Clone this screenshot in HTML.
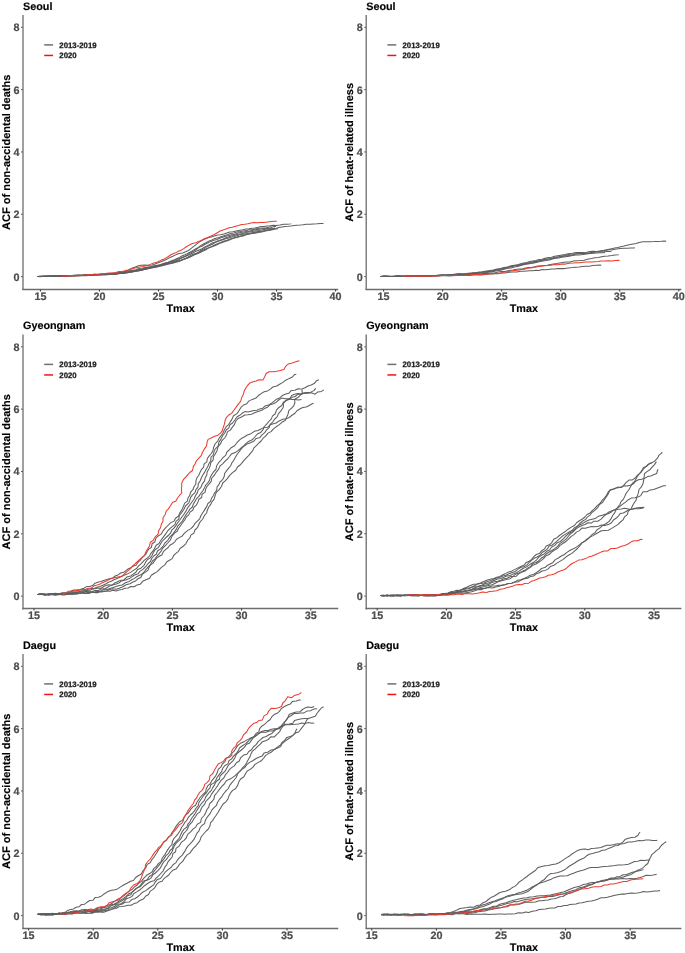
<!DOCTYPE html><html><head><meta charset="utf-8"><style>html,body{margin:0;padding:0;background:#fff;}svg{display:block;filter:blur(0.3px);}text{font-family:'Liberation Sans', sans-serif;font-weight:bold;text-rendering:geometricPrecision;}</style></head><body>
<svg width="685" height="953" viewBox="0 0 685 953">
<rect width="685" height="953" fill="#fff"/>
<line x1="23" y1="14.9" x2="23" y2="290" stroke="#6c6c6c" stroke-width="1.3"/><line x1="22.4" y1="289.5" x2="338.2" y2="289.5" stroke="#6c6c6c" stroke-width="1.3"/><line x1="21.1" y1="276.60" x2="22.6" y2="276.60" stroke="#444" stroke-width="1"/><text x="19.6" y="280.50" font-size="10.8" fill="#4d4d4d" stroke="#4d4d4d" stroke-width="0.2" text-anchor="end">0</text><line x1="21.1" y1="214.28" x2="22.6" y2="214.28" stroke="#444" stroke-width="1"/><text x="19.6" y="218.18" font-size="10.8" fill="#4d4d4d" stroke="#4d4d4d" stroke-width="0.2" text-anchor="end">2</text><line x1="21.1" y1="151.96" x2="22.6" y2="151.96" stroke="#444" stroke-width="1"/><text x="19.6" y="155.86" font-size="10.8" fill="#4d4d4d" stroke="#4d4d4d" stroke-width="0.2" text-anchor="end">4</text><line x1="21.1" y1="89.64" x2="22.6" y2="89.64" stroke="#444" stroke-width="1"/><text x="19.6" y="93.54" font-size="10.8" fill="#4d4d4d" stroke="#4d4d4d" stroke-width="0.2" text-anchor="end">6</text><line x1="21.1" y1="27.32" x2="22.6" y2="27.32" stroke="#444" stroke-width="1"/><text x="19.6" y="31.22" font-size="10.8" fill="#4d4d4d" stroke="#4d4d4d" stroke-width="0.2" text-anchor="end">8</text><line x1="40.40" y1="289.6" x2="40.40" y2="291.5" stroke="#333" stroke-width="1"/><text x="40.40" y="300.30" font-size="10.8" fill="#4d4d4d" stroke="#4d4d4d" stroke-width="0.2" text-anchor="middle">15</text><line x1="99.44" y1="289.6" x2="99.44" y2="291.5" stroke="#333" stroke-width="1"/><text x="99.44" y="300.30" font-size="10.8" fill="#4d4d4d" stroke="#4d4d4d" stroke-width="0.2" text-anchor="middle">20</text><line x1="158.48" y1="289.6" x2="158.48" y2="291.5" stroke="#333" stroke-width="1"/><text x="158.48" y="300.30" font-size="10.8" fill="#4d4d4d" stroke="#4d4d4d" stroke-width="0.2" text-anchor="middle">25</text><line x1="217.52" y1="289.6" x2="217.52" y2="291.5" stroke="#333" stroke-width="1"/><text x="217.52" y="300.30" font-size="10.8" fill="#4d4d4d" stroke="#4d4d4d" stroke-width="0.2" text-anchor="middle">30</text><line x1="276.56" y1="289.6" x2="276.56" y2="291.5" stroke="#333" stroke-width="1"/><text x="276.56" y="300.30" font-size="10.8" fill="#4d4d4d" stroke="#4d4d4d" stroke-width="0.2" text-anchor="middle">35</text><line x1="335.60" y1="289.6" x2="335.60" y2="291.5" stroke="#333" stroke-width="1"/><text x="335.60" y="300.30" font-size="10.8" fill="#4d4d4d" stroke="#4d4d4d" stroke-width="0.2" text-anchor="middle">40</text><text x="23.0" y="9.7" font-size="10.8" fill="#000" stroke="#000" stroke-width="0.15">Seoul</text><text x="180.60" y="312.20" font-size="10.8" fill="#000" stroke="#000" stroke-width="0.15" text-anchor="middle">Tmax</text><text transform="translate(10.2,152.30) rotate(-90)" font-size="11" fill="#000" stroke="#000" stroke-width="0.15" text-anchor="middle">ACF of non-accidental deaths</text><line x1="44.2" y1="44.9" x2="53.1" y2="44.9" stroke="#6f6f6f" stroke-width="1.5"/><line x1="44.2" y1="55.45" x2="53.1" y2="55.45" stroke="#f01515" stroke-width="1.5"/><text x="59.3" y="47.9" font-size="7.8" fill="#1a1a1a" stroke="#1a1a1a" stroke-width="0.25">2013-2019</text><text x="59.3" y="58.3" font-size="7.8" fill="#1a1a1a" stroke="#1a1a1a" stroke-width="0.25">2020</text><polyline points="37.3,276.5 40.4,276.7 43.7,276.3 47.5,276.5 50.6,276.6 53.9,276.3 57.3,276.4 60.8,276.4 64.4,276.4 67.9,275.8 71.4,275.9 74.8,275.9 78.0,275.7 81.0,275.7 84.2,275.6 87.4,275.6 90.6,275.4 93.8,274.9 97.0,275.0 100.2,274.6 103.3,274.6 106.4,274.3 110.3,274.2 114.1,273.9 117.6,273.7 121.4,273.4 125.0,272.9 128.3,272.4 132.1,272.0 135.7,271.3 139.2,270.7 143.0,269.7 146.1,269.3 149.2,268.2 152.4,267.7 155.6,267.0 158.6,266.1 161.6,265.6 165.2,264.6 168.5,264.1 171.5,263.4 175.0,262.5 178.9,261.5 181.7,260.2 185.4,258.7 188.3,257.5 191.4,256.3 194.3,254.8 197.3,253.8 200.1,252.5 203.0,251.0 206.0,249.7 208.6,247.9 211.4,246.7 214.1,245.3 216.8,244.0 220.4,242.5 224.0,240.9 227.0,240.3 230.0,238.9 233.8,237.9 236.9,237.1 240.1,236.2 243.2,235.2 246.3,234.5 250.1,233.7 253.3,232.5 256.4,232.2 260.1,231.2 264.1,231.0 267.0,230.0 270.0,229.4 273.0,228.7 276.0,228.2 279.0,227.6 282.0,227.0 285.0,226.5 288.0,226.3 291.0,225.9 294.0,225.4 297.0,225.2 300.1,225.1 303.1,224.8 306.1,224.2 310.0,224.2 313.5,223.9 317.1,223.8 320.4,223.5 323.5,223.6" fill="none" stroke="#5e5e5e" stroke-width="1.05" stroke-linejoin="round"/><polyline points="37.3,276.5 40.4,276.3 43.7,276.6 47.5,276.5 50.6,276.5 53.9,276.2 57.3,276.5 60.8,276.3 64.4,275.9 67.9,276.1 71.4,275.7 74.8,275.8 78.0,275.7 81.0,275.4 84.2,275.1 87.5,274.8 90.8,274.7 94.2,274.4 97.6,274.4 100.8,274.0 104.1,274.0 107.2,273.5 111.1,273.3 114.7,273.0 118.0,272.8 122.0,272.1 125.0,271.4 128.4,269.9 131.8,268.3 134.8,267.2 137.8,266.1 140.8,265.2 144.6,264.9 148.3,265.2 152.2,264.9 155.1,264.0 158.1,262.8 161.0,261.8 163.9,260.5 166.7,259.2 170.1,257.4 173.3,256.0 176.2,254.6 179.2,253.4 182.6,253.0 185.6,251.8 188.5,250.5 190.9,248.6 193.4,246.6 196.0,244.6 198.5,242.6 201.6,240.6 205.0,239.0 208.1,237.8 211.1,237.1 214.3,236.0 217.4,235.1 220.5,234.7 223.7,234.0 226.8,232.9 229.8,232.1 232.9,231.7 236.0,231.0 239.9,230.3 243.0,229.8 245.9,228.9 249.0,228.7 252.0,228.2 255.0,227.9 258.0,227.3 261.0,226.6 264.0,226.4 267.0,226.0 270.1,225.7 273.2,225.3 276.3,225.4 280.0,225.0 283.6,224.2 287.1,224.2 290.7,223.8 291.3,223.7" fill="none" stroke="#5e5e5e" stroke-width="1.05" stroke-linejoin="round"/><polyline points="37.3,276.5 40.4,276.5 43.5,276.5 47.1,276.4 50.1,276.0 53.3,276.0 56.7,276.1 60.2,275.7 63.8,275.9 67.4,275.7 71.1,275.4 74.8,275.5 78.4,275.1 81.9,275.2 85.3,274.9 88.6,274.9 91.6,274.7 95.4,274.6 98.6,274.4 102.0,274.2 105.3,274.1 109.0,273.8 112.5,273.8 115.8,273.4 119.0,272.7 122.9,272.3 126.7,271.2 129.8,270.7 132.9,270.2 135.9,269.7 138.9,268.6 142.0,268.3 145.0,267.5 148.1,266.9 151.2,266.6 154.3,265.7 157.4,265.2 160.4,264.7 164.2,263.5 167.1,262.8 170.3,261.7 173.4,260.6 176.4,259.8 179.2,258.6 182.6,257.2 186.4,255.6 189.0,253.9 192.2,252.0 195.6,250.0 198.0,248.1 200.2,245.9 203.0,244.3 205.9,242.8 209.2,240.9 212.0,239.9 214.9,238.5 218.0,237.8 221.1,236.7 224.8,235.4 227.8,234.6 230.7,233.5 233.9,233.1 236.9,232.1 240.0,231.6 243.0,230.9 246.1,230.4 249.1,229.8 252.3,229.7 255.2,229.1 259.1,228.3 262.3,228.1 265.8,227.9 269.2,227.1 272.3,227.0 275.4,226.3 276.0,226.5" fill="none" stroke="#5e5e5e" stroke-width="1.05" stroke-linejoin="round"/><polyline points="37.3,276.5 40.3,276.5 43.5,276.1 47.1,276.2 50.1,276.0 53.3,276.1 56.7,276.2 60.2,275.9 63.8,276.0 67.4,275.5 71.1,275.8 74.7,275.2 78.4,275.3 81.9,275.2 85.3,274.8 88.6,274.9 91.6,275.0 95.3,274.7 98.6,274.5 102.0,274.5 105.3,274.1 109.0,274.2 112.5,273.9 115.8,273.4 119.0,273.1 122.8,272.5 126.8,272.0 129.8,271.5 132.9,271.2 135.9,270.4 138.9,269.7 142.0,269.2 145.0,268.3 148.2,268.1 151.4,267.1 154.6,266.6 157.6,265.4 160.7,265.2 164.3,263.7 167.3,263.1 170.4,262.0 174.1,261.2 177.9,260.1 180.7,258.5 184.2,257.1 186.9,255.7 189.8,254.5 192.7,253.0 195.4,251.6 199.0,250.0 202.1,248.7 204.7,247.0 207.4,245.6 210.1,244.3 212.9,242.8 215.9,241.8 219.5,240.2 222.4,239.4 225.2,238.1 228.2,237.1 231.1,236.0 234.1,235.6 237.0,234.4 240.0,233.9 243.1,233.4 246.0,232.6 249.0,231.8 252.0,231.6 255.0,230.9 258.2,230.6 261.7,230.1 265.1,229.3 268.4,228.8 272.3,228.7 275.0,228.0" fill="none" stroke="#5e5e5e" stroke-width="1.05" stroke-linejoin="round"/><polyline points="37.3,276.5 40.4,276.6 43.5,276.2 47.1,276.1 50.1,276.2 53.3,275.9 56.7,276.1 60.2,276.2 63.7,276.0 67.4,275.7 71.1,275.7 74.7,275.8 78.4,275.2 81.9,275.4 85.3,275.0 88.6,275.1 91.6,275.2 95.4,275.0 98.6,275.1 102.0,274.7 105.3,274.4 109.0,274.2 112.5,274.6 115.8,274.3 119.0,273.4 122.9,273.3 126.8,272.7 129.7,271.8 132.9,271.6 135.9,270.8 139.0,270.3 142.0,269.7 145.0,269.0 148.1,268.2 151.3,267.4 154.5,266.8 157.7,266.2 160.6,265.1 164.4,264.6 167.3,263.7 170.5,263.1 174.1,262.2 177.8,261.1 180.9,260.3 184.6,259.0 187.4,257.5 190.3,255.8 193.3,254.3 196.3,253.2 200.1,251.8 202.8,250.2 206.4,248.7 210.0,247.2 213.0,246.5 215.9,245.3 219.4,243.6 222.2,242.4 225.2,241.4 228.3,240.6 231.1,239.2 234.0,238.1 237.1,237.6 240.0,236.4 243.1,236.0 246.0,234.8 249.0,234.1 252.0,233.5 255.1,233.3 258.3,232.6 261.8,231.9 265.2,231.0 268.5,230.6 272.1,229.7 274.0,229.5" fill="none" stroke="#5e5e5e" stroke-width="1.05" stroke-linejoin="round"/><polyline points="37.3,276.5 40.3,276.4 43.5,276.4 47.1,276.0 50.1,276.0 53.3,276.3 56.7,276.2 60.1,275.7 63.7,275.8 67.4,275.7 71.1,275.4 74.7,275.2 78.4,275.5 81.9,275.4 85.3,275.5 88.6,275.3 91.6,274.9 95.3,274.7 98.6,275.1 102.0,274.5 105.3,274.9 109.0,274.4 112.5,274.6 115.8,273.9 119.0,273.6 122.8,273.2 126.8,272.7 129.8,272.4 132.8,271.7 135.9,271.2 139.0,270.7 142.0,270.2 145.0,269.3 148.0,268.7 150.9,268.0 153.9,267.5 157.0,267.1 159.9,266.2 163.0,265.4 166.0,264.7 169.8,263.3 172.9,262.7 175.9,261.5 179.0,261.0 182.0,260.0 184.8,258.7 188.4,257.7 192.1,255.9 195.0,254.3 197.7,253.0 200.7,250.5 204.2,248.6 206.8,246.9 209.5,245.5 212.4,244.3 215.1,242.6 218.0,241.3 221.1,240.3 224.9,239.0 227.8,238.2 230.8,237.3 233.9,236.6 236.9,235.8 239.9,234.7 242.9,234.2 246.0,233.8 249.0,233.1 252.1,233.0 255.1,232.1 259.0,231.6 262.2,231.2 265.6,230.4 269.1,229.9 272.4,229.4 276.1,229.1 278.0,228.8" fill="none" stroke="#5e5e5e" stroke-width="1.05" stroke-linejoin="round"/><polyline points="37.3,276.5 40.3,276.2 43.5,276.3 47.1,276.2 50.1,276.2 53.3,276.2 56.6,275.7 60.2,275.9 63.7,275.8 67.4,275.6 71.1,275.7 74.7,275.5 78.4,275.5 81.9,275.3 85.3,275.1 88.6,275.1 91.6,274.9 95.3,274.5 98.6,274.5 102.0,274.5 105.3,274.3 109.0,274.3 112.5,274.3 115.8,273.6 119.0,273.5 122.9,272.9 126.8,272.4 129.7,271.3 132.8,270.7 135.9,270.4 139.0,269.7 142.0,269.2 145.0,268.4 148.1,267.4 151.4,267.0 154.6,266.3 157.7,265.5 160.7,264.8 164.3,263.3 168.3,262.3 171.1,261.0 174.5,259.7 178.0,258.1 180.8,256.6 184.3,255.1 187.1,253.7 189.9,252.2 192.7,250.6 195.4,249.0 198.9,247.3 202.0,246.2 204.6,244.5 208.2,242.7 210.9,241.4 213.9,240.3 216.9,239.4 219.7,238.2 222.6,237.2 225.7,236.3 228.8,235.5 232.0,234.8 235.1,234.2 238.0,233.1 241.0,232.4 244.2,232.1 247.2,231.3 250.2,230.9 254.0,229.9 257.2,229.4 260.7,229.0 264.2,228.5 267.4,228.2 270.8,227.9 272.0,227.5" fill="none" stroke="#5e5e5e" stroke-width="1.05" stroke-linejoin="round"/><polyline points="61.4,276.2 65.2,276.3 68.3,275.8 71.8,275.6 75.4,275.6 78.9,275.7 82.0,275.5 85.0,275.0 88.1,274.7 91.3,274.9 94.3,274.1 98.2,274.2 102.2,273.8 105.3,273.5 109.1,273.0 113.0,272.9 116.0,272.6 118.9,271.5 122.1,271.4 125.1,270.7 128.1,270.1 131.7,268.9 134.9,268.0 138.7,267.2 142.4,266.6 146.4,265.8 149.3,264.9 152.0,263.6 155.0,262.8 158.2,261.8 161.3,260.1 164.4,258.9 168.0,256.8 171.3,254.5 174.9,253.1 177.8,251.6 180.7,250.5 183.4,248.9 186.7,246.5 189.4,244.9 192.4,243.5 195.8,242.8 198.7,241.6 201.6,240.3 204.9,238.5 207.8,237.4 210.9,236.1 214.0,234.7 217.3,232.7 220.2,231.0 223.2,230.0 226.0,229.1 229.0,227.7 232.3,227.2 235.4,226.2 238.5,225.4 241.5,224.4 244.8,224.2 247.9,223.7 251.0,223.1 254.0,222.5 257.2,222.7 260.2,222.4 264.1,222.4 267.5,222.0 271.2,221.6 274.5,221.2 276.8,221.3" fill="none" stroke="#f03a2c" stroke-width="1.05" stroke-linejoin="round"/>
<line x1="366.2" y1="14.9" x2="366.2" y2="290" stroke="#6c6c6c" stroke-width="1.3"/><line x1="365.59999999999997" y1="289.5" x2="681.4" y2="289.5" stroke="#6c6c6c" stroke-width="1.3"/><line x1="364.3" y1="276.60" x2="365.8" y2="276.60" stroke="#444" stroke-width="1"/><text x="362.8" y="280.50" font-size="10.8" fill="#4d4d4d" stroke="#4d4d4d" stroke-width="0.2" text-anchor="end">0</text><line x1="364.3" y1="214.28" x2="365.8" y2="214.28" stroke="#444" stroke-width="1"/><text x="362.8" y="218.18" font-size="10.8" fill="#4d4d4d" stroke="#4d4d4d" stroke-width="0.2" text-anchor="end">2</text><line x1="364.3" y1="151.96" x2="365.8" y2="151.96" stroke="#444" stroke-width="1"/><text x="362.8" y="155.86" font-size="10.8" fill="#4d4d4d" stroke="#4d4d4d" stroke-width="0.2" text-anchor="end">4</text><line x1="364.3" y1="89.64" x2="365.8" y2="89.64" stroke="#444" stroke-width="1"/><text x="362.8" y="93.54" font-size="10.8" fill="#4d4d4d" stroke="#4d4d4d" stroke-width="0.2" text-anchor="end">6</text><line x1="364.3" y1="27.32" x2="365.8" y2="27.32" stroke="#444" stroke-width="1"/><text x="362.8" y="31.22" font-size="10.8" fill="#4d4d4d" stroke="#4d4d4d" stroke-width="0.2" text-anchor="end">8</text><line x1="383.60" y1="289.6" x2="383.60" y2="291.5" stroke="#333" stroke-width="1"/><text x="383.60" y="300.30" font-size="10.8" fill="#4d4d4d" stroke="#4d4d4d" stroke-width="0.2" text-anchor="middle">15</text><line x1="442.64" y1="289.6" x2="442.64" y2="291.5" stroke="#333" stroke-width="1"/><text x="442.64" y="300.30" font-size="10.8" fill="#4d4d4d" stroke="#4d4d4d" stroke-width="0.2" text-anchor="middle">20</text><line x1="501.68" y1="289.6" x2="501.68" y2="291.5" stroke="#333" stroke-width="1"/><text x="501.68" y="300.30" font-size="10.8" fill="#4d4d4d" stroke="#4d4d4d" stroke-width="0.2" text-anchor="middle">25</text><line x1="560.72" y1="289.6" x2="560.72" y2="291.5" stroke="#333" stroke-width="1"/><text x="560.72" y="300.30" font-size="10.8" fill="#4d4d4d" stroke="#4d4d4d" stroke-width="0.2" text-anchor="middle">30</text><line x1="619.76" y1="289.6" x2="619.76" y2="291.5" stroke="#333" stroke-width="1"/><text x="619.76" y="300.30" font-size="10.8" fill="#4d4d4d" stroke="#4d4d4d" stroke-width="0.2" text-anchor="middle">35</text><line x1="678.80" y1="289.6" x2="678.80" y2="291.5" stroke="#333" stroke-width="1"/><text x="678.80" y="300.30" font-size="10.8" fill="#4d4d4d" stroke="#4d4d4d" stroke-width="0.2" text-anchor="middle">40</text><text x="366.2" y="9.7" font-size="10.8" fill="#000" stroke="#000" stroke-width="0.15">Seoul</text><text x="523.80" y="312.20" font-size="10.8" fill="#000" stroke="#000" stroke-width="0.15" text-anchor="middle">Tmax</text><text transform="translate(353.4,152.30) rotate(-90)" font-size="11" fill="#000" stroke="#000" stroke-width="0.15" text-anchor="middle">ACF of heat-related illness</text><line x1="387.4" y1="44.9" x2="396.3" y2="44.9" stroke="#6f6f6f" stroke-width="1.5"/><line x1="387.4" y1="55.45" x2="396.3" y2="55.45" stroke="#f01515" stroke-width="1.5"/><text x="402.5" y="47.9" font-size="7.8" fill="#1a1a1a" stroke="#1a1a1a" stroke-width="0.25">2013-2019</text><text x="402.5" y="58.3" font-size="7.8" fill="#1a1a1a" stroke="#1a1a1a" stroke-width="0.25">2020</text><polyline points="380.6,276.4 384.3,276.3 387.4,276.5 390.9,276.4 394.8,276.3 397.9,276.1 401.2,276.4 404.6,276.1 408.1,275.8 411.6,275.8 415.1,275.8 418.7,276.0 422.2,275.6 425.6,275.7 429.0,275.5 432.2,275.5 435.3,275.4 439.1,275.1 442.3,275.1 445.8,275.2 449.1,274.8 452.4,274.5 455.7,274.1 458.9,273.8 462.1,274.0 465.2,273.8 468.2,273.6 472.0,272.9 475.7,272.8 479.2,272.1 482.6,271.7 486.3,271.1 490.0,270.6 493.3,270.1 497.0,269.1 500.6,268.4 504.0,267.5 507.9,266.9 510.9,265.8 514.7,265.2 517.7,264.8 520.6,263.8 523.6,263.1 526.8,262.6 529.8,261.6 532.9,261.0 536.0,260.5 539.0,259.6 542.1,259.3 545.1,258.3 548.2,257.6 551.5,257.2 554.6,256.3 557.7,255.8 560.8,255.3 564.7,254.6 568.3,253.8 572.5,253.3 575.8,252.5 579.0,252.6 582.9,252.4 586.6,252.2 590.0,251.5 593.4,251.3 596.4,251.4 600.1,250.9 604.0,250.3 607.8,249.5 611.7,248.7 614.7,248.1 617.7,247.6 620.7,246.8 623.9,246.1 627.1,245.3 630.2,244.5 633.2,243.9 636.2,243.4 639.1,242.4 642.9,241.8 646.5,241.7 650.5,241.7 654.0,241.6 657.7,241.4 661.2,241.3 664.9,241.1 666.2,241.3" fill="none" stroke="#5e5e5e" stroke-width="1.05" stroke-linejoin="round"/><polyline points="380.6,276.4 384.3,276.1 387.4,276.1 390.9,276.6 394.8,276.2 397.9,276.3 401.2,275.9 404.6,276.3 408.1,276.0 411.6,276.3 415.1,276.1 418.7,276.0 422.2,275.8 425.6,275.5 429.0,275.8 432.2,275.6 435.3,275.7 439.1,275.4 442.3,275.1 445.7,275.0 449.1,275.1 452.4,274.5 455.7,274.6 458.9,274.0 462.1,274.3 465.2,273.9 468.1,273.3 472.0,273.1 475.7,272.7 479.3,272.7 482.6,272.2 486.4,271.7 490.1,271.3 493.3,270.6 497.1,269.8 500.6,269.1 504.1,268.3 507.9,267.3 510.9,266.6 514.7,265.6 518.6,265.0 521.7,264.6 524.7,263.6 527.8,263.1 530.8,262.4 533.9,261.5 537.0,261.4 540.0,260.3 543.0,259.8 546.1,259.0 549.4,258.7 552.5,258.0 555.6,257.0 558.8,256.8 561.7,256.0 565.6,255.4 569.1,254.3 572.3,253.9 575.5,254.0 579.2,253.3 582.8,253.2 586.6,253.1 590.0,252.7 593.6,252.0 596.6,251.6 599.8,251.3 603.0,250.6 606.2,250.2 609.4,249.7 612.6,249.7 616.3,249.1 620.2,248.6 624.1,248.2 627.6,248.2 630.6,248.0 633.8,248.0 634.9,247.8" fill="none" stroke="#5e5e5e" stroke-width="1.05" stroke-linejoin="round"/><polyline points="380.6,276.4 384.3,276.3 387.4,276.4 390.9,276.6 394.8,276.4 397.9,276.0 401.2,276.0 404.6,276.0 408.1,276.1 411.6,276.2 415.1,276.2 418.7,276.2 422.2,275.9 425.6,275.6 429.0,275.5 432.2,275.6 435.3,275.7 439.1,275.2 442.3,275.3 445.7,275.0 449.1,274.9 452.5,274.9 455.7,274.5 458.9,274.1 462.1,274.1 465.2,274.2 468.2,273.9 472.0,273.4 475.7,272.9 479.3,272.9 482.6,272.1 486.4,271.7 490.1,271.5 493.3,270.9 497.1,269.7 500.6,269.3 504.1,268.5 507.9,267.3 510.9,266.9 514.7,265.8 518.7,265.5 521.6,264.7 524.7,264.0 527.8,263.6 530.9,263.1 534.0,262.4 537.0,261.6 540.0,261.0 543.0,260.3 546.1,259.6 549.3,259.1 552.5,258.6 555.7,257.9 558.7,256.9 561.7,256.4 565.6,256.0 569.2,255.4 572.4,254.9 575.6,253.9 578.6,253.8 582.4,253.5 586.1,253.4 590.0,252.9 593.2,252.4 596.6,251.9 600.2,252.1 603.7,251.8 606.9,251.6 610.3,251.4 611.5,251.1" fill="none" stroke="#5e5e5e" stroke-width="1.05" stroke-linejoin="round"/><polyline points="380.6,276.4 384.3,276.5 387.4,276.2 390.9,276.4 394.8,276.2 397.9,276.1 401.2,276.2 404.6,276.2 408.1,275.9 411.6,276.1 415.1,276.2 418.7,275.8 422.2,276.0 425.6,275.9 429.0,276.1 432.2,276.0 435.3,275.5 439.1,275.7 442.3,275.3 445.7,275.4 449.1,275.5 452.5,275.1 455.7,275.2 459.0,275.2 462.1,274.7 465.2,274.8 469.1,274.3 472.9,274.0 476.6,273.8 480.1,274.0 483.4,273.4 487.7,273.6 491.2,273.1 494.3,272.9 498.0,272.1 501.4,271.6 505.0,271.5 508.9,270.4 512.8,269.9 516.6,269.3 519.6,269.0 522.7,268.8 525.7,267.9 528.8,267.6 531.9,267.3 534.9,266.7 537.9,266.0 541.0,265.7 544.1,265.4 547.2,265.3 550.4,264.5 553.5,264.0 556.7,263.6 559.7,263.1 562.7,262.6 566.5,262.1 570.0,261.9 573.6,261.0 577.0,260.7 580.3,260.6 584.2,260.2 587.6,259.3 591.3,258.6 594.9,257.7 598.5,257.4 601.5,256.8 604.6,256.2 608.1,255.9 611.7,255.5 614.9,254.9 618.2,254.8 618.8,254.7" fill="none" stroke="#5e5e5e" stroke-width="1.05" stroke-linejoin="round"/><polyline points="380.6,276.4 384.3,276.1 387.4,276.6 390.9,276.5 394.8,276.4 397.9,276.1 401.2,276.5 404.6,276.5 408.1,276.1 411.6,276.4 415.1,276.1 418.7,276.1 422.2,276.2 425.6,275.9 429.0,276.2 432.2,276.0 435.3,275.6 439.1,275.6 442.3,275.7 445.7,275.7 449.1,275.9 452.5,275.7 455.7,275.4 458.9,275.6 462.1,275.3 465.2,275.3 469.1,275.4 473.0,275.1 476.6,274.6 480.1,275.0 483.4,274.6 487.6,274.1 491.2,273.9 494.3,273.8 498.0,273.7 501.5,273.1 505.0,272.9 508.9,272.2 512.8,271.9 516.7,271.9 520.6,271.2 523.7,271.3 526.7,270.9 529.8,270.7 532.9,270.8 536.0,270.2 539.0,270.4 542.0,269.6 545.1,269.8 548.3,269.4 551.4,269.1 554.6,268.9 557.7,268.6 560.7,268.6 564.7,268.6 568.3,267.9 572.4,267.6 575.9,267.2 579.1,267.1 582.1,266.6 585.8,266.2 589.2,266.2 592.7,265.5 596.3,265.3 600.0,265.1 601.3,265.2" fill="none" stroke="#5e5e5e" stroke-width="1.05" stroke-linejoin="round"/><polyline points="380.6,276.4 384.3,276.6 387.4,276.3 390.9,276.3 394.8,276.3 397.9,276.1 401.2,276.3 404.6,276.4 408.1,276.3 411.6,276.2 415.1,276.3 418.7,275.8 422.2,276.1 425.6,275.7 429.0,275.7 432.2,275.8 435.3,275.4 439.1,275.7 442.3,275.2 445.7,275.1 449.1,274.8 452.5,274.9 455.7,274.9 458.9,274.7 462.1,274.2 465.2,274.4 468.1,273.9 472.0,273.9 475.7,273.3 479.2,273.0 482.6,272.9 486.4,272.5 490.1,272.1 493.3,271.4 497.1,270.8 500.7,270.3 504.1,269.2 507.8,268.2 511.0,268.1 514.7,267.1 518.6,266.2 521.6,265.3 524.6,264.6 527.7,263.9 530.9,263.5 534.0,263.0 537.0,262.3 540.0,261.4 543.1,261.0 546.2,260.5 549.3,259.9 552.5,258.9 555.6,258.3 558.8,258.1 561.7,257.3 565.6,256.7 569.2,256.3 572.4,255.4 575.8,255.0 579.0,254.9 582.9,254.4 586.5,253.9 590.0,253.6 593.6,253.3 597.1,253.1 600.3,252.8 603.8,252.8 605.0,252.5" fill="none" stroke="#5e5e5e" stroke-width="1.05" stroke-linejoin="round"/><polyline points="404.7,276.4 407.8,276.2 411.0,276.0 414.8,276.1 417.9,276.1 421.2,276.1 424.6,276.1 428.2,275.9 431.8,275.9 435.3,276.1 438.8,275.7 442.8,275.6 446.7,275.4 449.7,275.4 452.9,275.5 456.1,275.2 459.4,275.5 462.6,275.4 465.8,275.2 469.0,274.8 472.1,274.7 475.2,274.5 479.0,274.8 482.6,274.7 486.4,274.4 490.1,273.7 493.3,273.7 497.1,273.3 500.6,273.0 504.0,271.9 507.9,271.6 510.9,271.1 514.8,270.6 517.9,270.3 521.0,269.4 524.3,269.2 527.4,268.3 530.6,268.1 533.6,267.4 537.4,266.7 541.2,266.3 544.7,265.8 547.9,265.4 551.0,265.3 554.7,264.5 558.3,264.8 562.3,264.1 565.4,264.1 569.2,263.2 573.0,263.0 577.0,262.7 580.0,262.7 583.0,262.2 586.0,262.1 589.0,262.0 592.0,262.0 595.0,261.7 598.0,261.5 601.0,261.1 605.0,260.9 608.4,260.8 612.0,260.9 615.4,260.4 618.9,260.3 619.5,260.5" fill="none" stroke="#f03a2c" stroke-width="1.05" stroke-linejoin="round"/>
<line x1="23" y1="334.4" x2="23" y2="609.5" stroke="#6c6c6c" stroke-width="1.3"/><line x1="22.4" y1="608.5" x2="338.2" y2="608.5" stroke="#6c6c6c" stroke-width="1.3"/><line x1="21.1" y1="596.10" x2="22.6" y2="596.10" stroke="#444" stroke-width="1"/><text x="19.6" y="600.00" font-size="10.8" fill="#4d4d4d" stroke="#4d4d4d" stroke-width="0.2" text-anchor="end">0</text><line x1="21.1" y1="533.78" x2="22.6" y2="533.78" stroke="#444" stroke-width="1"/><text x="19.6" y="537.68" font-size="10.8" fill="#4d4d4d" stroke="#4d4d4d" stroke-width="0.2" text-anchor="end">2</text><line x1="21.1" y1="471.46" x2="22.6" y2="471.46" stroke="#444" stroke-width="1"/><text x="19.6" y="475.36" font-size="10.8" fill="#4d4d4d" stroke="#4d4d4d" stroke-width="0.2" text-anchor="end">4</text><line x1="21.1" y1="409.14" x2="22.6" y2="409.14" stroke="#444" stroke-width="1"/><text x="19.6" y="413.04" font-size="10.8" fill="#4d4d4d" stroke="#4d4d4d" stroke-width="0.2" text-anchor="end">6</text><line x1="21.1" y1="346.82" x2="22.6" y2="346.82" stroke="#444" stroke-width="1"/><text x="19.6" y="350.72" font-size="10.8" fill="#4d4d4d" stroke="#4d4d4d" stroke-width="0.2" text-anchor="end">8</text><line x1="34.00" y1="608.6" x2="34.00" y2="610.5" stroke="#333" stroke-width="1"/><text x="34.00" y="619.30" font-size="10.8" fill="#4d4d4d" stroke="#4d4d4d" stroke-width="0.2" text-anchor="middle">15</text><line x1="103.20" y1="608.6" x2="103.20" y2="610.5" stroke="#333" stroke-width="1"/><text x="103.20" y="619.30" font-size="10.8" fill="#4d4d4d" stroke="#4d4d4d" stroke-width="0.2" text-anchor="middle">20</text><line x1="172.40" y1="608.6" x2="172.40" y2="610.5" stroke="#333" stroke-width="1"/><text x="172.40" y="619.30" font-size="10.8" fill="#4d4d4d" stroke="#4d4d4d" stroke-width="0.2" text-anchor="middle">25</text><line x1="241.60" y1="608.6" x2="241.60" y2="610.5" stroke="#333" stroke-width="1"/><text x="241.60" y="619.30" font-size="10.8" fill="#4d4d4d" stroke="#4d4d4d" stroke-width="0.2" text-anchor="middle">30</text><line x1="310.80" y1="608.6" x2="310.80" y2="610.5" stroke="#333" stroke-width="1"/><text x="310.80" y="619.30" font-size="10.8" fill="#4d4d4d" stroke="#4d4d4d" stroke-width="0.2" text-anchor="middle">35</text><text x="23.0" y="329.2" font-size="10.8" fill="#000" stroke="#000" stroke-width="0.15">Gyeongnam</text><text x="180.60" y="631.20" font-size="10.8" fill="#000" stroke="#000" stroke-width="0.15" text-anchor="middle">Tmax</text><text transform="translate(10.2,471.80) rotate(-90)" font-size="11" fill="#000" stroke="#000" stroke-width="0.15" text-anchor="middle">ACF of non-accidental deaths</text><line x1="44.2" y1="364.4" x2="53.1" y2="364.4" stroke="#6f6f6f" stroke-width="1.5"/><line x1="44.2" y1="374.95" x2="53.1" y2="374.95" stroke="#f01515" stroke-width="1.5"/><text x="59.3" y="367.4" font-size="7.8" fill="#1a1a1a" stroke="#1a1a1a" stroke-width="0.25">2013-2019</text><text x="59.3" y="377.8" font-size="7.8" fill="#1a1a1a" stroke="#1a1a1a" stroke-width="0.25">2020</text><polyline points="37.6,594.5 41.2,593.9 45.3,594.3 48.7,594.4 52.3,593.8 55.7,593.2 59.1,594.3 62.1,593.0 65.2,592.8 68.3,592.8 71.1,591.1 73.9,589.9 77.0,589.7 80.1,589.4 83.9,588.2 86.6,586.6 89.7,586.5 92.7,585.6 95.0,583.2 98.0,582.3 100.9,581.6 103.7,580.4 106.7,579.6 109.6,578.7 112.6,578.1 115.1,576.0 118.1,574.9 120.6,573.0 124.4,571.9 127.5,569.3 130.2,568.1 132.8,566.3 136.0,565.3 138.0,562.3 140.3,560.1 142.5,557.2 145.6,554.7 147.0,551.8 148.7,549.1 151.5,547.2 152.1,543.7 154.9,541.7 155.8,538.5 157.8,536.2 161.3,533.9 162.8,531.2 165.3,528.2 167.9,525.5 170.5,522.9 174.1,521.1 175.5,518.2 178.4,516.3 179.8,512.9 181.7,510.0 183.3,506.7 184.7,503.1 187.4,501.1 188.0,498.0 189.8,495.3 190.6,492.2 192.9,489.7 194.0,486.7 195.8,484.0 196.0,480.6 197.0,477.7 198.8,475.2 200.0,472.4 201.4,469.6 203.6,467.2 204.2,463.9 206.9,461.8 207.3,458.5 209.2,455.9 211.3,453.5 212.9,450.9 213.5,447.8 215.0,444.0 217.7,441.1 219.4,437.7 221.5,435.3 223.2,432.5 224.6,429.5 226.2,426.7 228.7,424.6 230.2,421.9 231.9,419.4 233.5,415.7 236.9,413.6 239.0,410.7 241.2,407.1 243.7,404.9 246.8,403.7 248.7,401.1 252.3,399.4 256.0,398.1 258.8,395.2 261.4,393.4 264.2,391.8 267.6,390.9 270.4,389.1 272.8,387.0 276.8,386.0 279.6,384.2 282.9,382.4 285.7,380.2 289.3,378.4 292.5,376.9 294.7,374.4 296.3,374.3" fill="none" stroke="#5e5e5e" stroke-width="1.05" stroke-linejoin="round"/><polyline points="37.6,594.5 41.2,594.3 45.3,594.1 48.7,595.2 52.3,594.0 55.8,594.3 59.0,593.7 62.0,593.0 65.1,592.9 68.2,593.3 72.0,591.7 76.1,592.0 79.1,591.8 82.0,590.7 85.1,590.6 88.0,589.4 90.9,588.6 94.0,588.4 97.0,587.3 100.0,586.4 102.8,585.2 105.6,584.1 108.2,582.3 111.2,581.2 114.0,579.7 117.0,578.6 119.9,577.3 123.5,575.6 127.0,574.1 130.5,572.4 133.8,570.1 136.5,568.5 138.6,565.9 141.5,563.4 143.9,560.6 147.1,558.1 149.5,556.1 151.0,553.3 153.1,550.9 154.7,548.1 156.2,545.2 159.0,543.5 160.6,540.8 162.9,537.6 165.3,534.4 167.5,531.2 170.1,528.3 172.6,526.3 175.0,524.4 176.1,521.2 178.8,519.2 179.3,515.5 181.6,512.6 183.8,509.5 185.5,506.0 188.6,503.2 189.8,500.4 190.6,497.4 192.5,494.9 195.0,492.7 195.9,489.6 198.0,487.1 198.3,483.6 200.1,481.0 201.6,477.3 203.0,474.7 204.7,472.1 206.2,469.3 207.8,466.5 209.0,463.5 210.8,460.8 210.9,457.4 213.3,455.0 214.0,451.9 215.1,449.1 218.1,446.2 218.9,442.4 221.1,438.9 222.6,435.7 224.7,433.0 226.3,430.0 228.9,427.9 229.9,424.7 232.6,423.0 234.9,420.0 236.9,417.0 239.7,415.3 242.1,413.3 244.9,411.6 248.1,411.9 251.0,411.2 254.0,410.5 257.0,410.3 259.7,408.9 262.7,408.2 265.2,405.9 268.5,404.9 271.6,403.2 274.2,401.2 276.5,399.2 279.7,397.9 282.8,395.2 285.8,394.1 288.9,393.2 291.4,390.4 294.8,390.3 298.2,388.7 300.9,388.9" fill="none" stroke="#5e5e5e" stroke-width="1.05" stroke-linejoin="round"/><polyline points="37.6,594.5 41.2,593.8 45.3,594.4 48.7,593.9 52.3,594.6 55.8,594.9 59.0,594.8 62.1,594.3 65.2,594.2 68.2,594.2 72.1,592.7 76.0,592.2 80.0,592.1 83.0,591.4 85.9,590.2 89.1,590.9 91.8,589.2 94.9,588.8 97.9,588.1 101.1,588.2 104.6,586.0 108.4,584.8 111.7,585.3 114.2,583.3 117.0,582.0 119.8,580.6 123.8,580.0 126.8,577.1 130.7,576.0 133.2,574.1 135.9,572.3 137.7,569.4 140.9,568.2 143.8,565.7 145.7,562.1 147.5,559.5 150.4,557.9 152.2,555.3 153.5,552.1 155.4,549.5 158.2,547.6 159.9,545.0 162.0,541.5 164.8,538.7 167.7,536.0 170.6,533.2 171.7,530.2 174.0,528.1 175.9,525.7 177.5,522.9 179.5,520.5 181.7,517.3 183.9,514.2 186.0,511.1 187.8,507.6 190.1,504.5 192.5,501.3 194.3,498.8 195.4,495.8 197.2,493.1 198.2,489.9 200.8,487.7 202.2,484.1 204.6,480.9 205.2,477.7 206.8,475.0 207.2,471.7 208.9,468.9 210.2,465.9 210.8,462.6 213.1,460.1 213.4,456.8 215.1,454.2 217.0,450.7 218.0,446.9 220.4,443.9 222.0,440.6 224.6,438.0 226.4,435.2 227.4,431.9 230.3,430.1 232.0,427.6 234.4,424.6 235.8,421.0 238.2,418.4 242.0,416.8 244.7,415.0 247.8,414.8 251.6,414.2 255.2,412.5 258.9,411.2 261.8,410.3 264.5,408.6 267.5,407.2 270.0,404.8 273.2,403.7 276.0,402.4 278.7,400.0 281.6,398.1 285.0,398.7 288.7,398.8 291.8,399.5 294.9,399.5 298.5,400.0 301.4,399.4" fill="none" stroke="#5e5e5e" stroke-width="1.05" stroke-linejoin="round"/><polyline points="37.6,594.5 41.2,594.2 45.3,594.7 48.7,594.3 52.3,594.2 55.8,593.7 59.0,593.7 62.1,594.0 65.2,594.4 68.2,594.3 72.1,593.1 76.0,592.8 79.9,591.8 83.0,592.4 85.9,591.2 89.1,592.0 92.1,591.6 95.0,590.4 98.1,590.6 100.9,589.0 105.0,588.8 107.6,587.2 110.3,585.6 113.3,584.8 116.3,584.0 119.2,582.7 121.7,580.9 125.6,580.0 129.3,578.6 131.9,576.9 134.4,575.0 137.7,574.1 139.9,571.4 142.9,569.4 145.7,566.7 148.1,563.6 150.4,561.5 151.7,558.5 153.7,556.0 156.3,554.1 157.5,551.0 160.2,549.1 162.9,546.4 164.9,543.0 167.8,540.3 170.0,536.9 172.8,534.1 174.6,531.6 176.4,529.1 177.7,526.2 179.8,523.9 182.4,521.0 184.3,517.5 186.5,514.1 188.3,511.7 189.9,509.1 192.4,507.0 193.4,504.0 195.0,501.4 196.6,498.6 198.9,496.4 200.5,493.8 203.0,490.6 204.4,487.9 205.7,485.0 208.0,482.7 209.6,480.0 210.4,476.9 212.0,474.2 213.7,471.6 215.9,469.5 216.8,465.5 218.9,462.3 221.1,460.0 223.2,457.4 225.7,455.3 226.8,452.1 229.1,450.0 231.2,447.7 234.6,445.7 236.9,442.7 239.4,440.2 241.8,438.2 244.7,436.7 247.3,435.0 251.0,433.7 254.3,431.3 258.1,430.4 260.9,429.1 263.8,427.4 267.5,427.3 270.2,424.8 273.3,423.8 276.2,423.0 279.1,420.9 282.8,419.3 286.1,418.8 289.2,417.5 291.6,415.5 295.0,413.3 296.9,410.8 299.7,409.0 302.8,407.6 306.2,407.0 309.2,405.5 312.2,403.8 313.6,403.2" fill="none" stroke="#5e5e5e" stroke-width="1.05" stroke-linejoin="round"/><polyline points="37.6,594.5 41.2,594.6 45.3,595.1 48.7,593.7 52.3,593.8 55.8,594.6 59.0,594.1 62.1,594.2 65.2,593.9 68.2,593.9 72.1,594.1 76.0,593.0 80.0,593.3 83.0,592.8 86.1,593.1 89.0,591.9 92.1,592.5 95.1,592.1 98.1,591.6 101.2,591.1 103.8,588.9 107.1,589.5 110.0,588.4 113.1,587.6 116.1,586.6 119.1,585.6 122.1,585.0 125.4,582.8 129.1,581.4 131.7,579.8 134.5,578.4 137.1,576.5 140.1,575.1 143.3,573.0 145.7,569.7 147.8,567.4 150.0,565.1 152.9,563.4 154.7,560.7 156.6,558.1 159.3,556.3 162.0,554.8 163.3,551.7 165.5,549.6 168.0,547.8 169.8,545.3 172.5,543.8 174.8,541.8 176.5,539.2 179.2,537.6 182.0,536.2 184.5,533.1 187.5,530.6 190.9,528.6 193.1,526.5 194.8,523.7 197.1,521.3 199.7,518.9 201.1,515.2 203.1,512.2 205.2,508.9 206.8,506.4 207.9,503.5 210.5,501.3 211.5,498.3 213.3,495.7 214.7,492.8 216.7,490.3 217.0,487.0 218.9,484.6 220.2,481.8 222.6,479.6 224.1,476.8 224.6,473.5 226.5,470.9 228.4,468.4 230.6,466.0 231.7,463.1 233.5,460.7 235.4,457.3 237.4,454.0 239.5,451.2 241.5,448.7 243.5,446.1 245.5,443.8 248.6,441.4 252.2,439.8 254.8,437.0 257.3,434.0 260.5,432.6 263.1,429.7 264.3,426.5 266.7,424.1 268.8,421.5 271.2,419.1 272.6,415.9 275.1,414.0 276.5,410.1 278.6,407.7 281.7,405.5 283.4,402.2 286.7,400.2 290.0,398.2 291.7,395.4 294.6,394.3 297.7,393.6 301.0,394.0 304.0,393.5 308.0,393.3 311.3,392.8 315.2,394.2 317.8,391.9 321.5,391.4 323.9,389.9" fill="none" stroke="#5e5e5e" stroke-width="1.05" stroke-linejoin="round"/><polyline points="37.6,594.5 41.2,593.8 45.3,594.3 48.7,594.3 52.3,594.4 55.8,595.1 59.0,594.1 62.1,594.9 65.2,594.8 68.2,593.5 72.1,593.4 76.1,594.2 80.0,593.3 83.0,592.7 86.0,593.4 89.0,593.5 92.0,592.1 95.0,592.6 98.0,592.6 100.9,591.3 103.9,591.1 106.9,590.9 110.0,591.3 112.9,590.2 116.1,591.0 119.1,590.1 122.1,589.4 124.9,588.3 128.0,588.0 130.8,586.5 134.3,586.8 137.0,584.9 140.3,584.2 143.0,581.1 146.7,579.4 149.6,578.2 151.3,575.3 154.0,573.5 156.9,571.9 159.2,569.6 161.4,567.4 164.6,565.1 166.9,561.8 169.5,560.2 172.2,558.6 173.6,555.5 175.9,553.4 178.5,551.3 180.0,548.5 183.2,546.3 185.9,543.6 187.8,540.0 189.9,537.8 191.0,534.9 193.9,533.2 194.9,530.0 197.4,527.7 198.7,524.7 200.1,521.8 202.8,519.0 204.5,515.4 206.6,513.0 207.4,509.9 208.8,507.0 210.7,504.4 212.1,501.6 214.1,499.1 215.0,496.1 216.3,492.3 219.2,489.6 221.6,486.3 222.7,483.0 225.2,480.8 227.3,478.6 229.7,475.4 232.5,472.6 235.7,470.3 237.7,466.8 240.2,465.0 242.2,462.6 244.2,460.2 246.3,457.9 248.6,455.7 250.6,453.2 252.6,450.8 253.9,447.9 256.1,445.8 258.9,443.0 261.1,441.0 263.2,438.2 265.8,435.9 268.0,433.1 271.1,431.6 273.2,429.1 276.3,426.7 279.0,424.9 281.9,422.3 285.1,420.5 286.6,417.4 288.0,414.2 288.9,410.4 291.6,408.2 293.7,405.8 294.9,402.7 294.6,399.2 297.9,397.5 300.2,395.3 302.3,392.8 301.8,388.9 305.0,387.7 308.0,386.0 311.2,385.0 314.2,383.6 316.6,380.7 318.8,379.7" fill="none" stroke="#5e5e5e" stroke-width="1.05" stroke-linejoin="round"/><polyline points="37.6,594.5 41.2,593.9 45.3,595.3 48.7,594.7 52.3,594.6 55.8,594.8 59.0,593.6 62.1,594.4 65.2,594.7 68.2,593.7 72.2,594.4 76.0,593.4 80.0,593.4 83.0,592.8 86.0,593.4 89.0,592.3 92.0,592.2 95.0,592.1 98.0,591.5 101.1,592.1 104.1,591.4 107.1,591.0 109.9,589.4 112.8,588.7 116.1,589.2 119.1,588.2 122.8,586.7 126.1,584.8 129.9,583.8 132.5,582.3 135.4,581.1 137.8,578.8 140.8,577.4 142.5,574.1 145.9,571.9 148.2,569.8 149.3,566.7 150.9,563.8 152.5,561.0 155.0,558.8 156.9,556.2 158.9,553.8 160.9,551.4 162.3,548.7 165.1,545.9 167.8,543.0 170.4,540.0 172.0,536.1 174.5,533.1 177.2,531.3 178.5,528.5 180.3,526.0 182.6,522.8 184.9,519.6 186.4,516.9 188.8,514.9 190.0,512.1 192.7,510.2 193.9,507.3 196.3,505.1 197.8,502.4 198.9,499.3 201.7,497.5 202.0,494.2 205.0,492.4 205.7,489.1 207.1,486.2 209.2,483.8 211.2,481.3 211.8,478.0 214.0,475.7 216.1,472.3 218.5,469.4 220.1,465.8 222.9,463.6 225.1,461.1 227.5,459.0 229.5,456.5 231.3,454.1 235.2,452.6 238.3,450.4 241.2,447.8 243.8,446.2 247.0,444.1 250.6,442.7 254.1,441.0 256.1,438.4 259.6,437.8 262.2,434.7 264.7,432.7 266.5,429.9 269.2,427.6 270.3,424.1 272.9,421.8 274.7,419.0 277.1,416.9 278.5,413.6 281.4,410.3 283.3,407.3 283.4,403.3 286.1,400.2 289.4,399.4 292.2,397.3 295.2,396.5 297.9,394.1 301.3,394.2 304.0,392.7 307.0,392.5 310.3,392.4 313.9,390.6 315.7,388.4" fill="none" stroke="#5e5e5e" stroke-width="1.05" stroke-linejoin="round"/><polyline points="62.3,594.5 65.4,593.4 68.3,591.2 71.7,591.2 75.6,590.6 78.8,590.6 82.0,589.5 85.1,589.4 88.1,588.3 91.4,587.9 94.2,585.8 97.3,585.0 100.2,584.0 102.9,582.4 105.8,581.2 108.6,579.8 111.4,578.5 114.6,577.7 117.8,577.0 121.7,576.3 124.7,573.6 127.5,571.1 130.6,568.7 132.4,566.2 134.7,564.1 137.0,562.0 139.8,559.4 142.2,557.5 144.5,555.4 145.9,551.7 147.6,549.0 149.4,546.3 150.4,542.2 153.1,540.4 155.2,536.9 158.1,534.2 158.8,530.4 160.5,527.7 161.3,524.3 163.0,521.3 163.0,517.8 165.1,514.7 166.2,511.1 168.4,508.9 170.5,505.8 172.6,502.3 175.8,501.2 177.4,498.2 179.7,495.2 181.8,493.0 181.4,489.7 181.7,486.4 181.7,482.9 183.5,479.4 185.8,477.1 187.8,474.7 189.8,472.5 192.5,470.5 193.4,466.4 195.1,463.8 196.4,460.8 199.1,457.8 201.4,455.4 202.5,452.3 204.4,448.9 206.6,445.9 207.0,442.4 208.1,439.4 211.7,437.7 214.4,436.3 217.4,435.6 220.5,433.1 222.5,430.4 223.3,427.1 224.4,424.2 225.0,421.0 226.4,417.4 229.1,414.8 231.8,413.1 233.8,410.3 236.0,407.4 238.3,404.1 240.8,401.2 241.7,397.5 243.2,394.7 244.1,391.3 245.6,388.3 247.4,385.7 250.0,382.9 253.0,381.7 256.1,381.0 259.0,379.7 262.9,379.9 264.6,377.0 266.2,373.5 268.9,371.7 273.2,371.8 276.7,371.3 280.1,370.6 283.8,369.5 285.6,366.4 288.4,363.9 291.4,363.2 294.9,362.1 298.1,361.0 299.6,361.0" fill="none" stroke="#f03a2c" stroke-width="1.05" stroke-linejoin="round"/>
<line x1="366.2" y1="334.4" x2="366.2" y2="609.5" stroke="#6c6c6c" stroke-width="1.3"/><line x1="365.59999999999997" y1="608.5" x2="681.4" y2="608.5" stroke="#6c6c6c" stroke-width="1.3"/><line x1="364.3" y1="596.10" x2="365.8" y2="596.10" stroke="#444" stroke-width="1"/><text x="362.8" y="600.00" font-size="10.8" fill="#4d4d4d" stroke="#4d4d4d" stroke-width="0.2" text-anchor="end">0</text><line x1="364.3" y1="533.78" x2="365.8" y2="533.78" stroke="#444" stroke-width="1"/><text x="362.8" y="537.68" font-size="10.8" fill="#4d4d4d" stroke="#4d4d4d" stroke-width="0.2" text-anchor="end">2</text><line x1="364.3" y1="471.46" x2="365.8" y2="471.46" stroke="#444" stroke-width="1"/><text x="362.8" y="475.36" font-size="10.8" fill="#4d4d4d" stroke="#4d4d4d" stroke-width="0.2" text-anchor="end">4</text><line x1="364.3" y1="409.14" x2="365.8" y2="409.14" stroke="#444" stroke-width="1"/><text x="362.8" y="413.04" font-size="10.8" fill="#4d4d4d" stroke="#4d4d4d" stroke-width="0.2" text-anchor="end">6</text><line x1="364.3" y1="346.82" x2="365.8" y2="346.82" stroke="#444" stroke-width="1"/><text x="362.8" y="350.72" font-size="10.8" fill="#4d4d4d" stroke="#4d4d4d" stroke-width="0.2" text-anchor="end">8</text><line x1="377.20" y1="608.6" x2="377.20" y2="610.5" stroke="#333" stroke-width="1"/><text x="377.20" y="619.30" font-size="10.8" fill="#4d4d4d" stroke="#4d4d4d" stroke-width="0.2" text-anchor="middle">15</text><line x1="446.40" y1="608.6" x2="446.40" y2="610.5" stroke="#333" stroke-width="1"/><text x="446.40" y="619.30" font-size="10.8" fill="#4d4d4d" stroke="#4d4d4d" stroke-width="0.2" text-anchor="middle">20</text><line x1="515.60" y1="608.6" x2="515.60" y2="610.5" stroke="#333" stroke-width="1"/><text x="515.60" y="619.30" font-size="10.8" fill="#4d4d4d" stroke="#4d4d4d" stroke-width="0.2" text-anchor="middle">25</text><line x1="584.80" y1="608.6" x2="584.80" y2="610.5" stroke="#333" stroke-width="1"/><text x="584.80" y="619.30" font-size="10.8" fill="#4d4d4d" stroke="#4d4d4d" stroke-width="0.2" text-anchor="middle">30</text><line x1="654.00" y1="608.6" x2="654.00" y2="610.5" stroke="#333" stroke-width="1"/><text x="654.00" y="619.30" font-size="10.8" fill="#4d4d4d" stroke="#4d4d4d" stroke-width="0.2" text-anchor="middle">35</text><text x="366.2" y="329.2" font-size="10.8" fill="#000" stroke="#000" stroke-width="0.15">Gyeongnam</text><text x="523.80" y="631.20" font-size="10.8" fill="#000" stroke="#000" stroke-width="0.15" text-anchor="middle">Tmax</text><text transform="translate(353.4,471.80) rotate(-90)" font-size="11" fill="#000" stroke="#000" stroke-width="0.15" text-anchor="middle">ACF of heat-related illness</text><line x1="387.4" y1="364.4" x2="396.3" y2="364.4" stroke="#6f6f6f" stroke-width="1.5"/><line x1="387.4" y1="374.95" x2="396.3" y2="374.95" stroke="#f01515" stroke-width="1.5"/><text x="402.5" y="367.4" font-size="7.8" fill="#1a1a1a" stroke="#1a1a1a" stroke-width="0.25">2013-2019</text><text x="402.5" y="377.8" font-size="7.8" fill="#1a1a1a" stroke="#1a1a1a" stroke-width="0.25">2020</text><polyline points="380.4,595.5 383.7,596.1 387.2,595.2 390.3,595.4 393.6,595.8 397.2,595.6 400.8,595.8 404.4,594.9 408.0,594.7 411.4,594.7 414.6,595.5 418.4,595.5 421.4,595.3 425.3,595.3 428.5,595.6 432.1,594.6 435.5,595.0 439.1,595.1 441.9,593.6 444.9,593.4 448.0,593.1 450.9,591.8 453.9,591.3 456.9,590.2 460.2,590.5 463.5,588.5 466.6,587.2 469.8,585.7 473.6,584.2 477.5,583.9 480.9,582.8 483.9,581.4 487.3,580.0 491.0,579.1 493.9,578.5 496.8,577.3 499.9,576.4 502.8,574.7 505.8,573.4 508.8,571.9 511.9,570.9 514.9,569.4 517.9,567.9 520.8,566.6 524.3,565.0 526.2,562.4 529.2,561.2 531.8,559.3 533.8,556.6 536.3,554.5 539.6,553.3 541.7,550.7 544.5,548.9 546.2,546.0 549.3,544.8 551.6,542.8 553.7,539.3 557.0,537.7 559.4,535.5 562.5,533.4 565.7,531.2 568.2,529.2 571.3,527.1 574.4,525.5 576.6,522.7 579.8,520.5 582.4,519.0 584.9,517.0 587.0,514.5 590.1,513.1 592.2,510.6 594.6,508.7 597.2,505.6 600.0,503.5 602.1,500.3 604.6,497.9 606.5,495.3 608.2,492.0 611.0,489.5 614.5,488.7 617.7,487.1 621.7,487.5 624.3,484.6 626.4,482.2 629.0,480.1 632.4,479.9 635.2,478.0 637.1,475.6 640.0,473.2 641.9,470.4 643.5,467.4 646.9,466.2 649.3,463.6 652.6,462.4 655.1,460.7 657.5,458.2 659.1,455.1 661.9,452.9 661.7,452.0" fill="none" stroke="#5e5e5e" stroke-width="1.05" stroke-linejoin="round"/><polyline points="380.4,595.5 383.7,595.2 387.2,596.1 390.3,595.2 393.6,595.2 397.2,595.7 400.8,595.8 404.4,595.5 408.0,595.2 411.4,595.8 414.6,595.2 418.4,595.9 421.4,594.9 425.3,594.7 428.5,595.5 432.1,594.7 435.5,595.7 439.0,594.4 442.0,594.4 445.0,593.7 448.1,593.5 450.9,592.3 454.2,592.5 457.0,591.3 460.0,590.2 463.6,589.5 466.6,588.0 470.2,587.7 474.0,586.1 477.1,584.0 480.9,583.6 484.1,582.9 487.4,581.5 491.0,580.5 493.8,579.2 496.6,577.9 499.8,577.2 502.8,575.9 506.0,575.3 509.0,573.7 512.1,572.5 515.3,571.4 517.9,569.4 520.5,567.6 524.4,566.6 527.0,564.9 529.1,562.5 531.5,560.4 534.1,558.3 537.2,557.0 540.0,555.1 542.1,552.5 544.9,550.8 547.4,548.9 549.1,546.0 552.2,545.0 555.2,542.7 557.8,540.3 560.2,538.2 563.4,535.4 566.5,533.6 569.2,532.0 572.3,530.3 574.6,527.6 577.8,526.0 579.7,523.5 582.8,521.0 585.6,519.4 587.6,516.8 590.2,514.8 592.2,512.2 594.8,510.4 597.7,507.7 599.5,504.5 602.7,502.3 604.6,499.2 606.5,496.6 608.5,493.4 609.8,490.3 613.3,489.2 616.1,487.9 620.0,487.4 623.9,485.8 627.1,486.1 630.2,485.2 633.2,483.9 635.7,481.3 638.4,479.8 641.7,479.2 644.7,478.3 647.6,476.6 650.8,475.9 653.6,474.7 656.7,473.4 657.6,470.0 658.2,469.5" fill="none" stroke="#5e5e5e" stroke-width="1.05" stroke-linejoin="round"/><polyline points="380.4,595.5 383.7,596.1 387.2,595.1 390.3,596.0 393.6,595.8 397.2,595.3 400.8,595.3 404.4,595.8 408.0,595.5 411.4,595.1 414.6,594.7 418.4,595.6 421.4,595.5 425.3,594.7 428.4,594.5 432.1,595.5 435.4,594.5 439.0,594.6 443.0,594.3 446.1,594.3 449.0,593.2 452.0,592.6 455.0,592.2 458.1,591.8 460.8,589.9 464.4,589.2 467.9,588.8 471.5,587.5 474.6,586.3 478.7,585.9 481.7,585.2 484.7,583.7 488.3,583.0 491.9,581.6 494.7,580.3 497.6,579.1 500.7,578.4 503.8,577.3 506.9,576.1 510.2,575.4 513.2,574.0 516.3,572.7 519.2,571.1 522.4,568.8 526.0,567.1 528.7,565.4 531.3,563.5 534.1,561.9 536.7,559.8 538.8,557.1 541.6,555.3 544.5,553.7 546.7,551.3 549.6,550.0 551.4,547.3 554.8,545.4 557.2,542.7 560.4,541.5 563.5,538.7 566.0,535.9 568.4,533.8 571.9,531.8 574.7,529.8 576.7,526.8 579.7,524.7 582.9,523.4 585.8,521.5 588.9,520.1 592.1,519.2 595.2,518.6 598.3,516.3 601.4,515.4 604.6,514.4 608.2,513.8 611.0,512.3 613.4,510.1 616.5,508.6 619.3,506.8 622.7,504.2 625.3,502.3 628.3,499.7 631.3,498.1 634.9,497.8 638.0,497.0 640.8,495.6 643.0,491.8 647.1,491.8 650.2,489.9 653.7,489.4 656.9,488.2 660.4,486.9 663.6,485.8 666.1,485.7" fill="none" stroke="#5e5e5e" stroke-width="1.05" stroke-linejoin="round"/><polyline points="380.4,595.5 383.7,595.3 387.2,595.8 390.3,595.3 393.6,595.7 397.2,595.8 400.8,596.0 404.4,595.3 408.0,595.2 411.4,594.7 414.6,595.0 418.4,595.0 421.4,595.2 425.3,595.4 428.4,595.4 432.1,595.7 435.5,595.4 439.0,594.4 443.0,594.1 446.1,594.7 449.1,594.1 452.1,593.5 455.1,592.9 458.0,591.5 461.1,591.7 464.6,590.7 468.0,590.4 471.7,589.5 474.6,587.8 478.4,586.6 481.4,585.9 484.7,585.2 488.3,584.5 491.7,582.6 494.6,581.8 497.8,581.3 500.8,580.3 503.7,578.7 507.0,578.2 510.0,576.7 513.4,576.2 516.0,573.9 519.1,572.9 522.7,571.1 525.4,569.9 527.9,567.9 530.7,566.4 532.8,563.6 536.1,562.5 538.9,560.7 541.2,558.3 544.0,556.5 546.1,554.0 548.7,552.2 551.4,550.7 554.8,548.7 557.6,546.3 559.8,543.7 563.1,541.3 566.1,539.1 568.2,536.5 570.2,534.2 573.1,531.8 575.6,529.3 578.4,527.2 582.0,525.5 585.1,524.5 587.9,522.7 591.3,523.1 593.9,521.2 597.8,521.2 601.1,519.1 603.5,516.6 605.8,514.5 609.0,511.9 611.9,510.8 615.1,510.0 618.3,509.2 621.4,509.0 624.4,508.3 627.5,508.7 630.6,509.6 633.9,508.5 637.3,507.7 640.8,507.4 644.2,507.2" fill="none" stroke="#5e5e5e" stroke-width="1.05" stroke-linejoin="round"/><polyline points="380.4,595.5 383.7,595.5 387.2,595.4 390.3,595.3 393.6,595.1 397.2,595.6 400.8,595.3 404.4,595.3 408.0,595.7 411.4,594.8 414.6,594.8 418.4,594.7 421.4,595.6 425.3,595.9 428.4,595.6 432.1,595.9 435.5,595.9 439.0,595.3 443.0,594.8 446.1,594.8 448.9,593.1 452.0,593.2 455.0,592.5 457.9,591.6 461.1,592.3 464.5,591.0 467.9,590.5 471.4,589.4 474.6,588.4 478.5,587.9 481.5,587.2 484.8,586.5 488.2,585.5 492.0,584.7 494.8,583.4 497.6,582.1 500.7,581.0 503.8,580.2 507.0,579.3 510.2,578.7 513.0,576.6 516.4,576.2 518.8,573.7 522.3,571.9 525.2,570.9 527.7,569.1 530.4,567.4 532.8,565.2 536.0,564.0 538.7,562.2 541.5,560.4 544.0,558.2 546.1,555.7 549.2,554.6 551.3,552.3 554.5,550.1 557.7,548.3 559.7,545.6 563.2,543.3 566.3,541.2 568.8,538.9 570.9,536.6 574.0,534.6 576.4,532.1 579.5,530.6 581.8,528.1 585.4,528.3 588.5,527.2 591.7,526.5 594.8,526.7 598.5,526.2 601.4,525.1 604.8,525.6 608.3,524.6 611.5,522.7 613.2,520.2 616.0,518.3 618.3,516.2 620.2,513.6 623.3,513.0 626.1,511.5 628.8,509.8 631.9,509.2 635.4,508.8 639.0,508.7 642.1,508.2 644.2,507.6" fill="none" stroke="#5e5e5e" stroke-width="1.05" stroke-linejoin="round"/><polyline points="380.4,595.5 383.7,596.0 387.2,595.0 390.3,596.1 393.6,595.9 397.1,594.8 400.8,595.7 404.4,595.0 408.0,595.2 411.4,595.1 414.6,594.9 418.4,595.4 421.4,595.6 425.3,595.8 428.5,595.7 432.1,595.1 435.4,594.9 439.1,595.4 443.0,595.1 445.9,593.8 449.0,594.1 452.0,593.3 455.0,592.9 457.9,592.2 460.9,591.7 464.5,591.7 467.8,590.9 471.5,590.2 474.6,589.4 478.5,588.8 481.6,588.6 485.0,588.5 488.5,586.9 492.4,586.1 495.5,585.9 498.7,585.3 502.0,585.4 505.3,584.8 508.4,583.6 511.8,583.3 514.9,582.1 517.7,580.3 520.8,579.7 524.5,578.2 527.4,576.9 530.1,575.2 533.4,574.5 536.2,572.6 539.0,570.8 541.5,568.5 544.8,567.6 547.3,565.5 550.0,564.0 552.8,562.7 555.3,559.6 558.4,558.0 560.9,556.2 564.4,554.5 566.9,552.4 570.2,550.3 573.4,548.7 576.4,547.1 579.4,545.0 581.8,542.9 584.6,541.2 587.2,539.0 590.1,537.1 593.0,535.6 595.6,534.0 598.8,532.3 601.4,530.8 604.9,530.5 608.4,530.2 611.7,528.4 614.9,526.4 617.8,524.6 620.5,522.0 623.0,519.9 624.6,516.8 627.3,514.6 628.2,511.3 630.9,509.2 632.4,506.1 633.9,503.3 636.1,500.1 636.8,496.9 638.3,493.4 639.0,489.5 641.4,486.9 643.0,483.8 643.6,480.7 644.0,477.6 644.5,473.7 646.9,471.6 650.0,469.7 652.1,467.1 654.5,464.6 656.4,461.6" fill="none" stroke="#5e5e5e" stroke-width="1.05" stroke-linejoin="round"/><polyline points="380.4,595.5 383.7,595.5 387.2,595.9 390.3,595.4 393.6,595.2 397.2,595.2 400.8,595.0 404.4,595.7 408.0,595.2 411.4,595.7 414.6,595.9 418.4,595.8 421.4,595.4 425.3,595.3 428.5,595.9 432.1,595.5 435.5,595.0 439.0,594.6 443.0,594.3 446.0,595.0 449.0,594.8 452.0,593.9 454.9,593.2 458.0,593.1 461.0,593.1 464.6,593.1 468.0,592.5 471.6,591.8 474.7,590.7 478.5,589.6 481.6,589.6 484.8,588.2 488.5,587.4 492.6,588.0 495.6,587.0 498.8,586.4 501.9,585.1 505.1,584.6 508.3,583.6 511.6,583.2 514.7,582.1 518.1,581.9 520.8,580.3 524.5,578.7 527.6,578.3 530.4,576.6 533.6,576.0 536.2,573.8 539.3,572.8 542.0,571.0 545.3,570.4 548.1,568.9 550.3,566.6 554.0,565.2 556.9,563.1 559.8,561.4 563.2,559.4 565.8,557.1 568.4,555.3 571.9,553.4 574.7,550.9 577.5,548.5 580.2,545.5 582.0,542.9 584.9,541.2 587.6,539.4 589.9,536.9 592.1,534.5 594.8,532.9 597.1,529.7 600.0,527.9 602.9,525.3 606.3,523.5 609.1,521.4 611.4,518.1 612.8,515.2 614.8,512.6 616.0,509.5 617.9,507.0 619.9,504.5 621.2,501.4 623.5,499.1 625.1,495.6 626.5,492.8 628.7,490.0 630.5,486.7 632.3,483.5 634.7,481.4 636.6,477.7 638.7,474.4 641.1,472.1 643.1,469.4 645.5,467.0 648.1,464.4 651.4,462.9 652.0,462.5" fill="none" stroke="#5e5e5e" stroke-width="1.05" stroke-linejoin="round"/><polyline points="404.5,595.4 407.8,595.5 411.3,594.6 414.4,595.3 417.7,594.7 421.2,595.3 424.7,594.8 428.3,594.5 431.8,595.3 435.1,594.8 438.1,594.4 441.2,594.9 444.6,595.0 448.0,594.9 451.2,594.7 454.2,594.8 458.2,594.1 462.0,594.4 465.7,593.6 468.9,593.8 472.4,594.1 475.6,593.6 478.7,592.9 482.5,591.9 486.3,592.5 489.5,591.6 492.8,591.2 496.6,590.8 500.3,589.2 503.5,588.7 506.5,587.8 509.6,586.9 512.6,586.3 515.5,584.9 518.6,584.5 521.8,584.8 524.6,583.6 528.7,583.2 531.2,581.3 534.1,580.4 537.0,579.3 539.7,578.0 542.8,577.6 545.7,576.8 548.3,575.2 551.6,574.7 554.9,573.7 557.7,572.0 561.7,570.6 564.7,569.5 567.1,567.6 569.5,565.3 572.6,563.3 575.4,561.9 578.6,560.1 581.8,559.7 585.5,558.6 588.4,557.1 591.5,556.3 594.5,554.9 597.4,553.8 601.0,552.1 604.3,551.0 607.6,550.9 610.9,548.5 615.0,548.4 618.3,547.8 621.3,546.2 624.8,545.4 628.0,544.0 630.9,542.1 633.8,540.8 637.7,540.7 640.9,539.2 642.5,539.4" fill="none" stroke="#f03a2c" stroke-width="1.05" stroke-linejoin="round"/>
<line x1="23" y1="653.9" x2="23" y2="929" stroke="#6c6c6c" stroke-width="1.3"/><line x1="22.4" y1="928.5" x2="338.2" y2="928.5" stroke="#6c6c6c" stroke-width="1.3"/><line x1="21.1" y1="915.60" x2="22.6" y2="915.60" stroke="#444" stroke-width="1"/><text x="19.6" y="919.50" font-size="10.8" fill="#4d4d4d" stroke="#4d4d4d" stroke-width="0.2" text-anchor="end">0</text><line x1="21.1" y1="853.28" x2="22.6" y2="853.28" stroke="#444" stroke-width="1"/><text x="19.6" y="857.18" font-size="10.8" fill="#4d4d4d" stroke="#4d4d4d" stroke-width="0.2" text-anchor="end">2</text><line x1="21.1" y1="790.96" x2="22.6" y2="790.96" stroke="#444" stroke-width="1"/><text x="19.6" y="794.86" font-size="10.8" fill="#4d4d4d" stroke="#4d4d4d" stroke-width="0.2" text-anchor="end">4</text><line x1="21.1" y1="728.64" x2="22.6" y2="728.64" stroke="#444" stroke-width="1"/><text x="19.6" y="732.54" font-size="10.8" fill="#4d4d4d" stroke="#4d4d4d" stroke-width="0.2" text-anchor="end">6</text><line x1="21.1" y1="666.32" x2="22.6" y2="666.32" stroke="#444" stroke-width="1"/><text x="19.6" y="670.22" font-size="10.8" fill="#4d4d4d" stroke="#4d4d4d" stroke-width="0.2" text-anchor="end">8</text><line x1="28.60" y1="928.6" x2="28.60" y2="930.5" stroke="#333" stroke-width="1"/><text x="28.60" y="939.30" font-size="10.8" fill="#4d4d4d" stroke="#4d4d4d" stroke-width="0.2" text-anchor="middle">15</text><line x1="93.20" y1="928.6" x2="93.20" y2="930.5" stroke="#333" stroke-width="1"/><text x="93.20" y="939.30" font-size="10.8" fill="#4d4d4d" stroke="#4d4d4d" stroke-width="0.2" text-anchor="middle">20</text><line x1="157.80" y1="928.6" x2="157.80" y2="930.5" stroke="#333" stroke-width="1"/><text x="157.80" y="939.30" font-size="10.8" fill="#4d4d4d" stroke="#4d4d4d" stroke-width="0.2" text-anchor="middle">25</text><line x1="222.40" y1="928.6" x2="222.40" y2="930.5" stroke="#333" stroke-width="1"/><text x="222.40" y="939.30" font-size="10.8" fill="#4d4d4d" stroke="#4d4d4d" stroke-width="0.2" text-anchor="middle">30</text><line x1="287.00" y1="928.6" x2="287.00" y2="930.5" stroke="#333" stroke-width="1"/><text x="287.00" y="939.30" font-size="10.8" fill="#4d4d4d" stroke="#4d4d4d" stroke-width="0.2" text-anchor="middle">35</text><text x="23.0" y="648.7" font-size="10.8" fill="#000" stroke="#000" stroke-width="0.15">Daegu</text><text x="180.60" y="951.20" font-size="10.8" fill="#000" stroke="#000" stroke-width="0.15" text-anchor="middle">Tmax</text><text transform="translate(10.2,791.30) rotate(-90)" font-size="11" fill="#000" stroke="#000" stroke-width="0.15" text-anchor="middle">ACF of non-accidental deaths</text><line x1="44.2" y1="683.9" x2="53.1" y2="683.9" stroke="#6f6f6f" stroke-width="1.5"/><line x1="44.2" y1="694.45" x2="53.1" y2="694.45" stroke="#f01515" stroke-width="1.5"/><text x="59.3" y="686.9" font-size="7.8" fill="#1a1a1a" stroke="#1a1a1a" stroke-width="0.25">2013-2019</text><text x="59.3" y="697.3" font-size="7.8" fill="#1a1a1a" stroke="#1a1a1a" stroke-width="0.25">2020</text><polyline points="37.7,914.3 41.3,914.4 45.3,913.9 48.8,914.0 52.3,913.2 55.9,914.3 59.0,912.9 62.1,912.9 65.1,912.3 67.6,910.4 70.5,909.6 73.5,908.9 76.0,907.2 79.2,906.7 81.5,904.5 84.7,904.2 87.1,902.2 89.7,900.5 93.0,900.2 95.1,897.6 98.4,897.2 101.2,896.2 103.6,894.3 107.0,892.1 110.6,890.5 114.7,889.7 117.6,888.9 120.2,887.1 123.5,885.0 127.0,883.2 130.4,881.2 133.5,880.5 135.4,877.7 138.2,875.8 141.1,874.2 142.9,870.9 145.6,868.2 147.2,864.4 150.2,862.8 151.7,859.9 153.7,857.5 155.4,854.8 157.2,852.2 158.6,849.5 160.6,847.2 162.0,844.3 164.0,842.0 166.4,840.1 168.2,837.6 170.6,835.6 171.8,832.7 173.7,830.2 175.3,827.6 176.9,825.1 179.4,822.0 182.3,820.4 183.9,817.7 185.6,815.2 188.6,812.5 190.8,809.1 192.9,806.9 195.6,805.2 196.9,802.2 198.8,799.5 200.4,797.0 203.2,794.1 205.6,792.0 206.3,788.7 207.7,785.9 210.3,783.7 211.7,780.8 213.7,778.3 215.7,775.8 217.1,773.1 218.4,769.2 220.8,767.2 222.3,764.0 224.9,761.6 226.4,758.4 229.2,756.3 231.2,753.7 233.7,751.7 235.9,748.4 237.8,745.4 241.0,742.9 244.6,741.4 247.6,739.6 250.7,737.9 253.7,736.8 256.0,733.5 258.8,731.9 259.6,728.6 261.8,726.2 265.1,723.9 267.5,721.5 270.0,719.7 271.7,716.9 274.1,714.6 277.1,713.3 279.4,711.4 281.4,708.5 284.6,706.4 287.4,705.1 290.3,704.1 292.5,701.4 296.2,701.0 299.3,700.0 300.8,699.9" fill="none" stroke="#5e5e5e" stroke-width="1.05" stroke-linejoin="round"/><polyline points="37.7,914.3 41.3,913.6 45.4,915.0 48.8,914.3 52.3,913.8 55.8,913.4 59.0,913.9 62.0,912.9 65.1,912.5 68.2,913.0 71.0,911.4 74.9,910.7 79.0,910.9 81.9,909.7 85.0,909.6 88.0,909.7 90.9,909.0 94.0,909.8 96.9,908.6 99.8,907.7 103.7,907.3 107.3,905.5 110.2,904.5 112.8,902.7 115.3,900.8 118.6,900.0 120.9,897.9 124.0,895.5 127.0,892.9 129.3,890.9 132.1,889.5 134.2,887.1 136.8,885.3 139.1,883.0 141.4,881.1 143.9,878.1 146.6,875.3 150.1,873.3 152.4,871.3 153.8,868.4 156.5,866.5 158.3,863.6 161.0,861.6 162.3,858.0 164.7,854.9 166.2,852.2 167.8,849.6 169.6,847.0 171.9,844.7 172.4,841.3 173.9,838.5 176.1,836.2 178.0,833.8 180.3,830.5 181.5,827.5 183.4,825.0 184.9,822.3 187.0,820.0 188.4,817.3 190.4,815.0 192.7,813.0 194.6,810.6 196.2,808.0 198.2,805.7 198.9,802.5 200.6,800.0 202.3,797.5 204.0,795.0 206.4,792.8 207.9,790.2 210.0,787.9 210.7,784.7 213.8,783.1 215.5,780.7 217.4,777.1 219.7,773.9 221.6,771.6 222.7,768.3 224.7,765.7 227.9,763.9 229.0,760.6 231.8,758.8 233.5,756.1 236.3,753.5 238.3,750.6 239.7,747.7 242.4,745.8 245.5,743.9 248.0,741.5 250.6,738.6 253.9,737.2 256.3,735.1 258.9,733.2 261.7,731.5 264.9,730.4 268.2,730.6 271.4,729.2 274.4,728.7 277.6,728.7 280.0,726.7 283.1,725.9 285.9,724.2 289.1,723.9 292.8,723.3 294.5,720.6 298.2,719.4 301.7,718.7 305.0,718.6 308.4,718.5 311.4,717.5 315.3,716.2 317.1,713.2 319.3,710.4 321.8,707.5 323.6,706.9" fill="none" stroke="#5e5e5e" stroke-width="1.05" stroke-linejoin="round"/><polyline points="37.7,914.3 41.3,914.3 45.3,914.9 48.8,914.9 52.3,914.2 55.8,914.6 59.0,913.1 62.1,913.9 65.2,913.5 68.1,912.1 71.2,912.7 75.1,911.9 79.1,911.6 82.0,911.0 85.0,910.5 88.0,911.0 91.0,910.7 94.1,910.9 96.9,909.4 100.0,909.1 103.5,907.6 107.4,906.9 110.8,904.9 113.9,904.2 116.7,902.7 119.4,901.0 122.6,898.9 125.8,896.6 128.6,893.8 131.5,892.7 133.8,890.6 136.0,888.4 138.9,887.0 141.0,884.7 143.1,881.3 147.0,879.9 149.2,876.5 151.9,874.9 153.4,872.1 155.3,869.6 157.5,867.2 159.5,864.6 161.7,861.7 164.1,858.6 166.2,855.3 168.7,853.3 170.0,850.5 172.6,848.5 173.2,845.1 175.2,842.7 177.3,840.4 179.4,838.0 180.5,835.1 182.3,831.5 184.0,829.1 186.8,827.3 187.7,824.3 189.8,822.1 191.1,819.3 192.8,816.8 194.6,814.4 196.1,811.8 198.2,808.4 200.4,805.0 202.2,802.6 204.4,800.4 205.5,797.4 207.3,794.9 209.1,792.5 211.4,790.4 212.7,787.6 214.4,785.1 216.2,781.5 219.5,779.0 220.1,775.8 222.6,773.5 225.1,771.2 226.7,768.2 228.4,765.2 230.8,762.9 233.1,760.6 234.8,758.0 236.3,754.3 238.8,752.0 241.4,750.0 244.3,747.4 246.6,744.2 249.6,742.9 251.5,740.1 253.5,737.5 256.8,735.3 259.5,733.0 262.8,732.1 266.1,732.2 269.3,730.9 272.6,731.0 275.5,729.3 279.5,728.7 281.7,726.1 284.8,724.7 288.7,724.7 292.0,724.4 295.2,724.3 298.5,723.9 301.8,723.1 304.9,723.4 308.5,722.6 311.9,723.3 314.2,723.0" fill="none" stroke="#5e5e5e" stroke-width="1.05" stroke-linejoin="round"/><polyline points="37.7,914.3 41.3,913.8 45.3,913.5 48.8,913.7 52.3,914.9 55.8,913.9 59.0,914.0 62.0,913.4 65.2,913.5 68.2,913.2 72.0,911.8 76.0,911.4 80.0,911.2 83.0,911.5 86.0,910.9 89.0,911.0 92.0,911.0 94.9,910.3 98.0,910.4 100.9,909.7 104.8,909.0 107.9,908.5 110.3,906.3 113.1,905.0 116.1,903.9 119.0,902.4 122.4,900.5 125.6,898.2 127.5,895.7 130.8,894.7 132.4,891.7 134.9,889.9 137.4,887.8 140.4,886.4 142.4,884.2 144.9,881.1 148.8,879.6 151.3,877.7 152.8,874.8 155.4,873.0 157.8,870.7 160.2,868.2 161.9,864.9 163.9,861.6 166.3,859.6 168.0,857.0 170.0,854.6 171.9,852.0 173.0,849.0 174.3,846.0 176.0,843.4 178.4,841.2 180.6,839.2 182.1,836.4 183.5,833.7 185.6,831.5 187.5,829.2 188.9,825.3 191.8,822.4 193.8,818.9 195.6,816.5 197.1,813.9 199.8,812.1 201.0,809.3 202.4,806.6 204.6,804.3 205.8,801.5 208.0,799.2 210.2,796.9 211.5,794.1 213.3,791.6 215.1,789.2 217.4,786.0 219.4,782.7 221.2,780.1 223.8,778.0 225.3,774.9 227.5,772.5 229.3,769.7 231.6,767.6 234.3,765.9 236.4,762.8 239.3,761.0 240.6,757.8 243.6,755.1 246.9,754.2 248.8,751.5 251.5,749.7 253.3,747.0 256.3,744.4 258.1,741.6 260.6,739.6 263.0,737.5 266.2,736.5 268.9,734.8 271.9,733.4 274.2,731.1 276.6,729.1 279.7,727.9 281.6,725.3 283.7,722.9 285.9,720.6 288.0,717.3 289.3,714.2 292.9,713.0 296.2,712.1 299.9,711.8 302.5,709.5 305.1,707.9 307.9,707.0 311.6,707.4 314.2,706.4" fill="none" stroke="#5e5e5e" stroke-width="1.05" stroke-linejoin="round"/><polyline points="37.7,914.3 41.3,914.7 45.3,914.7 48.8,915.0 52.3,915.0 55.8,914.2 59.0,913.5 62.1,913.4 65.1,912.8 68.2,913.5 72.1,912.9 76.0,912.3 80.0,911.6 83.0,911.7 86.0,911.2 89.0,911.0 92.0,911.8 95.0,910.9 98.1,911.6 100.9,910.6 104.8,909.7 108.5,908.1 111.5,907.7 114.4,906.6 116.8,904.3 120.3,904.1 123.6,902.0 126.3,898.8 129.3,897.8 132.1,896.4 133.9,893.5 136.6,891.9 139.2,890.2 141.7,888.4 144.5,885.7 147.6,883.5 150.9,881.5 154.1,880.7 156.1,878.1 158.6,875.9 160.8,873.5 163.2,870.8 164.8,867.2 166.7,864.8 168.0,861.9 170.1,859.4 172.2,857.0 172.8,853.6 175.6,851.7 176.0,848.3 179.4,845.8 181.3,842.2 184.1,840.4 186.1,838.2 187.7,834.4 190.6,831.8 193.2,828.9 195.7,827.1 197.3,824.2 200.6,822.4 201.4,818.5 204.1,815.5 205.7,812.8 206.8,809.7 208.8,807.1 209.5,803.8 212.0,801.5 214.0,798.9 214.5,795.6 217.1,792.5 219.3,789.6 221.8,786.4 224.3,784.0 226.1,781.0 228.9,779.4 231.7,778.2 234.8,775.8 237.5,773.3 240.2,771.2 242.2,768.2 244.8,765.7 246.5,762.9 247.9,760.2 249.8,757.1 250.9,754.1 252.4,751.2 255.3,748.9 257.9,746.1 260.3,744.2 262.4,741.7 265.5,740.7 268.4,739.4 270.7,736.8 274.4,736.9 276.8,734.3 279.7,731.6 281.1,728.7 283.6,725.4 284.6,722.3 286.4,719.8 288.3,717.4 290.9,715.8 294.1,713.5 297.3,713.5 300.4,712.9 303.6,713.1 307.2,710.9 310.5,710.7 313.7,709.1 317.2,708.7" fill="none" stroke="#5e5e5e" stroke-width="1.05" stroke-linejoin="round"/><polyline points="37.7,914.3 41.3,914.0 45.3,913.5 48.8,914.2 52.3,914.6 55.8,914.0 59.0,914.0 62.1,914.1 65.2,914.3 68.2,914.0 72.2,914.0 76.0,912.0 80.0,913.0 83.0,912.5 86.0,912.4 89.0,911.5 92.0,912.8 95.0,911.5 98.0,912.1 101.0,911.5 104.0,910.8 107.1,910.3 110.0,908.9 113.3,908.7 116.0,906.8 118.8,905.0 121.7,904.2 125.2,902.2 129.4,901.9 131.7,899.6 134.7,898.7 137.4,897.0 139.9,894.9 142.6,892.2 146.2,890.4 148.5,888.5 151.0,886.7 153.6,884.9 155.2,882.1 157.2,879.6 160.5,878.5 162.8,875.3 165.2,872.2 168.1,869.6 171.3,867.3 173.0,864.7 175.7,862.9 177.4,860.1 179.5,857.6 182.3,855.1 184.4,851.9 186.3,848.4 188.1,845.9 190.3,843.7 192.4,841.4 194.3,838.9 195.6,836.0 197.0,833.2 199.0,830.8 200.1,827.8 201.9,825.5 204.6,823.6 205.3,820.4 206.8,817.7 208.7,815.4 210.5,812.9 211.8,810.1 213.8,807.8 216.2,805.7 217.7,802.0 219.9,798.8 222.0,796.3 223.8,793.5 226.0,790.9 228.3,788.5 229.7,785.4 231.7,782.9 233.7,780.5 236.2,777.5 237.5,774.0 239.4,771.5 242.0,769.4 245.0,767.3 247.2,764.3 249.5,762.4 252.7,760.8 255.7,758.7 258.8,757.2 262.1,756.1 264.0,753.1 267.7,752.3 271.1,749.9 274.4,749.5 277.7,747.0 280.5,745.0 282.1,742.3 284.8,740.2 286.7,737.4 290.2,736.6 293.0,735.1 295.5,733.0 298.7,732.0 300.8,729.2 302.8,726.7 304.9,723.9 306.5,720.4 308.4,718.0" fill="none" stroke="#5e5e5e" stroke-width="1.05" stroke-linejoin="round"/><polyline points="37.7,914.3 41.3,915.0 45.3,914.2 48.8,913.8 52.3,914.0 55.8,913.8 59.0,914.0 62.1,914.6 65.2,914.5 68.1,913.0 72.1,913.8 76.0,913.3 80.0,913.2 83.0,913.1 86.0,913.4 89.0,913.2 92.0,913.3 95.0,912.2 98.0,911.9 101.0,912.1 104.2,912.1 107.1,910.9 110.1,910.1 112.9,908.7 116.1,908.5 118.9,906.8 122.0,906.6 125.0,906.0 128.0,905.3 131.2,905.3 134.0,903.6 137.1,902.7 139.8,900.5 143.3,899.1 145.8,896.0 148.6,894.5 150.0,891.4 152.7,889.6 155.0,887.3 156.6,884.4 158.9,882.3 162.1,881.2 163.9,878.7 166.3,876.8 168.8,875.0 170.6,872.5 172.7,870.3 175.9,869.1 177.9,866.6 179.8,863.8 182.7,861.4 184.7,857.9 187.2,854.9 189.8,853.1 191.6,850.6 193.5,848.2 195.8,846.0 197.8,843.4 199.8,840.9 201.1,837.0 203.5,834.0 206.2,831.0 208.5,828.8 209.9,826.1 210.5,822.9 212.6,820.6 214.2,818.0 216.0,815.5 217.7,813.0 219.7,809.5 221.4,806.8 223.1,804.0 225.9,801.8 227.9,799.1 229.0,795.8 230.6,792.9 232.6,790.4 235.5,788.7 237.6,785.4 238.8,782.1 240.4,779.3 243.9,776.8 245.4,774.1 247.2,771.0 250.3,769.4 253.0,767.1 255.0,764.4 258.3,762.4 261.2,760.8 263.8,758.0 265.7,755.4 268.5,753.6 271.4,752.0 274.7,749.2 277.6,748.1 280.6,746.6 282.2,743.5 284.8,741.4 287.3,739.5 290.1,737.7 292.8,735.5 295.2,732.5 296.5,729.3 297.3,729.1" fill="none" stroke="#5e5e5e" stroke-width="1.05" stroke-linejoin="round"/><polyline points="60.7,913.9 64.4,914.3 68.4,913.6 71.7,912.9 75.2,912.9 78.6,911.9 81.6,911.2 84.9,911.4 88.2,910.7 91.5,910.7 94.5,909.5 97.1,907.7 101.0,906.8 104.4,906.7 107.2,905.3 109.3,902.7 112.3,901.7 115.3,900.9 118.0,899.0 120.9,897.7 123.1,895.3 126.0,893.1 129.2,891.5 130.9,887.8 133.6,885.0 137.3,883.4 139.7,881.1 141.4,877.7 142.7,873.9 144.0,870.9 145.1,867.8 145.6,864.5 147.4,862.0 149.7,859.7 151.5,857.2 153.1,854.6 154.8,852.1 157.0,850.0 158.7,847.4 162.0,845.1 163.2,842.1 166.1,840.2 168.4,837.0 171.8,834.8 173.3,832.1 175.4,829.8 177.4,827.4 179.1,824.8 181.9,823.1 183.5,820.4 184.0,817.1 185.9,814.6 187.3,811.9 188.9,809.3 191.2,806.0 193.4,803.5 194.5,800.4 196.5,797.9 198.0,795.1 199.6,792.4 202.0,790.4 203.8,787.6 204.7,784.4 207.4,782.4 209.3,780.0 210.0,775.9 212.9,773.5 214.4,770.3 216.0,767.6 218.1,764.0 221.0,762.6 223.5,761.1 225.8,758.2 229.5,757.3 231.9,755.2 231.6,751.2 233.3,748.4 235.9,746.2 237.2,742.8 239.6,740.8 241.8,738.6 243.7,734.6 246.6,732.0 248.2,729.0 250.3,726.4 253.4,723.6 256.5,722.6 258.9,720.6 262.4,719.9 264.0,715.9 267.2,714.1 268.6,711.2 271.5,708.2 275.2,708.6 278.4,707.8 281.5,706.5 282.8,703.0 285.4,700.6 287.7,696.8 291.3,697.7 294.2,695.6 297.8,694.6 300.8,693.1 301.1,692.3" fill="none" stroke="#f03a2c" stroke-width="1.05" stroke-linejoin="round"/>
<line x1="366.2" y1="653.9" x2="366.2" y2="929" stroke="#6c6c6c" stroke-width="1.3"/><line x1="365.59999999999997" y1="928.5" x2="681.4" y2="928.5" stroke="#6c6c6c" stroke-width="1.3"/><line x1="364.3" y1="915.60" x2="365.8" y2="915.60" stroke="#444" stroke-width="1"/><text x="362.8" y="919.50" font-size="10.8" fill="#4d4d4d" stroke="#4d4d4d" stroke-width="0.2" text-anchor="end">0</text><line x1="364.3" y1="853.28" x2="365.8" y2="853.28" stroke="#444" stroke-width="1"/><text x="362.8" y="857.18" font-size="10.8" fill="#4d4d4d" stroke="#4d4d4d" stroke-width="0.2" text-anchor="end">2</text><line x1="364.3" y1="790.96" x2="365.8" y2="790.96" stroke="#444" stroke-width="1"/><text x="362.8" y="794.86" font-size="10.8" fill="#4d4d4d" stroke="#4d4d4d" stroke-width="0.2" text-anchor="end">4</text><line x1="364.3" y1="728.64" x2="365.8" y2="728.64" stroke="#444" stroke-width="1"/><text x="362.8" y="732.54" font-size="10.8" fill="#4d4d4d" stroke="#4d4d4d" stroke-width="0.2" text-anchor="end">6</text><line x1="364.3" y1="666.32" x2="365.8" y2="666.32" stroke="#444" stroke-width="1"/><text x="362.8" y="670.22" font-size="10.8" fill="#4d4d4d" stroke="#4d4d4d" stroke-width="0.2" text-anchor="end">8</text><line x1="371.80" y1="928.6" x2="371.80" y2="930.5" stroke="#333" stroke-width="1"/><text x="371.80" y="939.30" font-size="10.8" fill="#4d4d4d" stroke="#4d4d4d" stroke-width="0.2" text-anchor="middle">15</text><line x1="436.40" y1="928.6" x2="436.40" y2="930.5" stroke="#333" stroke-width="1"/><text x="436.40" y="939.30" font-size="10.8" fill="#4d4d4d" stroke="#4d4d4d" stroke-width="0.2" text-anchor="middle">20</text><line x1="501.00" y1="928.6" x2="501.00" y2="930.5" stroke="#333" stroke-width="1"/><text x="501.00" y="939.30" font-size="10.8" fill="#4d4d4d" stroke="#4d4d4d" stroke-width="0.2" text-anchor="middle">25</text><line x1="565.60" y1="928.6" x2="565.60" y2="930.5" stroke="#333" stroke-width="1"/><text x="565.60" y="939.30" font-size="10.8" fill="#4d4d4d" stroke="#4d4d4d" stroke-width="0.2" text-anchor="middle">30</text><line x1="630.20" y1="928.6" x2="630.20" y2="930.5" stroke="#333" stroke-width="1"/><text x="630.20" y="939.30" font-size="10.8" fill="#4d4d4d" stroke="#4d4d4d" stroke-width="0.2" text-anchor="middle">35</text><text x="366.2" y="648.7" font-size="10.8" fill="#000" stroke="#000" stroke-width="0.15">Daegu</text><text x="523.80" y="951.20" font-size="10.8" fill="#000" stroke="#000" stroke-width="0.15" text-anchor="middle">Tmax</text><text transform="translate(353.4,791.30) rotate(-90)" font-size="11" fill="#000" stroke="#000" stroke-width="0.15" text-anchor="middle">ACF of heat-related illness</text><line x1="387.4" y1="683.9" x2="396.3" y2="683.9" stroke="#6f6f6f" stroke-width="1.5"/><line x1="387.4" y1="694.45" x2="396.3" y2="694.45" stroke="#f01515" stroke-width="1.5"/><text x="402.5" y="686.9" font-size="7.8" fill="#1a1a1a" stroke="#1a1a1a" stroke-width="0.25">2013-2019</text><text x="402.5" y="697.3" font-size="7.8" fill="#1a1a1a" stroke="#1a1a1a" stroke-width="0.25">2020</text><polyline points="381.1,914.6 384.2,914.6 387.4,914.9 391.1,914.9 394.2,914.2 397.4,914.3 400.9,914.9 404.4,914.5 408.1,914.6 411.8,914.7 415.4,914.1 419.1,914.0 422.6,914.4 426.1,914.7 429.4,914.6 432.4,914.0 436.1,913.9 439.3,913.9 443.6,914.1 447.7,913.3 450.9,913.6 453.8,912.3 457.4,912.2 461.0,911.4 464.1,910.9 467.1,909.9 470.1,909.4 473.3,909.1 476.3,908.8 480.0,907.3 483.2,906.4 486.5,905.3 489.6,904.1 492.3,902.3 495.9,901.5 499.3,900.0 502.9,898.7 505.6,897.1 508.9,896.6 511.8,895.6 515.0,894.7 518.4,894.2 522.2,893.7 525.3,892.6 528.3,891.3 530.8,889.0 533.6,887.0 535.9,884.9 539.0,883.4 541.4,881.3 544.1,879.8 546.1,877.3 548.3,875.1 550.9,873.5 554.1,873.2 557.2,872.8 560.9,871.6 563.7,870.3 566.3,868.6 568.8,866.5 571.7,864.7 574.3,863.2 577.2,861.3 579.9,859.8 583.6,858.3 586.6,855.8 589.2,854.2 592.5,853.4 595.8,852.4 599.2,851.8 602.2,850.2 605.5,850.1 608.3,848.4 611.2,847.6 614.8,845.7 618.0,845.5 620.6,843.7 623.1,841.8 625.3,839.2 628.4,838.2 631.7,837.4 634.9,837.3 637.8,835.5 639.4,832.8 640.2,832.6" fill="none" stroke="#5e5e5e" stroke-width="1.05" stroke-linejoin="round"/><polyline points="381.1,914.6 384.2,914.6 387.4,914.4 391.1,914.7 394.2,914.4 397.4,915.0 400.9,914.7 404.4,914.3 408.1,914.9 411.8,914.7 415.4,914.8 419.1,914.5 422.6,914.6 426.1,914.8 429.3,914.0 432.4,914.0 436.1,913.9 439.3,914.1 443.6,913.7 446.6,913.1 450.2,912.5 453.7,911.5 457.0,909.9 459.9,908.6 463.6,908.0 467.0,907.6 470.1,907.0 473.9,907.3 477.1,905.5 480.2,905.1 482.6,902.9 485.7,901.8 488.3,899.5 490.9,897.6 493.9,896.3 496.8,894.5 499.4,892.7 502.5,891.7 505.5,891.2 509.3,889.8 511.9,887.8 514.8,886.4 517.2,884.4 519.3,881.9 521.9,880.2 524.4,878.3 527.0,876.5 529.8,874.2 532.4,872.5 535.3,870.5 537.6,867.8 541.5,866.5 545.2,865.8 548.4,865.4 552.4,864.6 555.8,864.1 559.0,862.8 561.5,861.1 564.1,859.4 566.8,857.6 569.5,856.0 572.4,853.7 575.4,851.9 578.1,850.3 581.7,849.3 585.0,848.9 588.2,849.7 591.3,848.6 594.6,848.3 597.8,847.9 601.0,847.5 603.9,846.2 607.2,845.3 611.0,845.2 614.2,844.6 617.4,843.8 620.7,843.9 624.4,843.4 628.2,842.0 631.4,841.9 634.9,841.4 638.8,840.5 642.3,840.7 645.8,840.0 649.4,839.9 652.6,840.5 656.1,840.4 657.3,840.2" fill="none" stroke="#5e5e5e" stroke-width="1.05" stroke-linejoin="round"/><polyline points="381.1,914.6 384.1,914.2 387.2,914.9 390.7,914.3 394.6,914.8 397.8,914.8 401.1,914.8 404.5,914.4 408.0,914.6 411.6,914.7 415.2,914.4 418.8,914.9 422.3,914.7 425.8,914.9 429.1,914.0 432.4,913.9 435.4,914.4 439.1,914.4 442.4,913.9 445.9,914.4 449.2,913.5 452.4,913.8 455.4,913.2 459.4,913.7 463.1,912.7 466.9,913.4 470.6,913.0 474.3,912.7 478.1,911.7 482.0,911.3 485.1,910.9 488.2,909.9 491.4,909.5 494.6,908.8 497.7,908.2 500.9,907.7 503.9,907.1 507.0,906.8 510.6,905.0 514.3,904.9 517.7,904.6 521.1,903.7 524.7,902.6 527.9,902.1 531.7,902.2 535.4,902.0 539.0,900.7 542.1,900.7 545.1,900.3 548.2,900.1 551.1,899.0 554.1,898.7 557.1,898.1 560.0,896.8 563.0,896.5 565.6,894.7 568.4,893.4 571.6,892.9 574.4,891.5 577.3,890.5 580.0,889.0 582.9,888.0 585.8,887.0 588.6,885.6 591.6,884.8 594.3,883.4 597.0,882.0 601.1,881.5 604.2,880.7 607.4,879.8 610.6,879.2 613.8,878.9 617.5,878.0 621.5,877.6 624.8,876.4 628.2,875.2 631.2,874.4 634.1,872.5 636.8,870.6 639.9,869.4 642.9,867.9 645.3,865.5 647.8,863.5 648.9,860.3 650.4,857.4 651.8,854.7 654.2,852.7 656.4,850.6 659.1,848.6 661.3,845.5 664.1,843.1 666.2,841.7" fill="none" stroke="#5e5e5e" stroke-width="1.05" stroke-linejoin="round"/><polyline points="381.1,914.6 384.2,914.1 387.3,914.6 390.9,914.5 394.9,914.4 398.2,914.2 401.6,914.3 405.1,914.6 408.7,914.9 412.3,914.5 415.9,914.7 419.5,914.1 423.1,914.0 426.5,914.5 429.8,914.2 432.9,913.9 436.7,914.6 440.0,913.9 444.3,914.1 448.1,913.0 451.6,913.4 454.8,913.1 458.7,912.3 462.2,911.5 465.5,911.4 468.5,910.5 472.6,909.5 475.8,908.1 479.1,906.3 482.4,905.0 486.1,904.0 489.0,902.8 491.9,901.8 494.8,900.9 498.5,899.5 501.4,898.4 504.3,897.5 507.9,895.7 511.1,895.0 515.0,894.3 518.0,893.0 521.1,892.3 523.9,891.2 526.7,890.2 529.5,888.6 532.9,886.5 536.0,885.7 538.5,883.8 541.5,882.6 544.6,881.7 547.6,880.5 550.6,879.6 553.4,877.9 556.4,876.9 560.0,876.1 563.2,876.0 567.2,875.7 570.0,874.6 573.5,873.2 576.5,872.1 579.7,871.1 582.8,870.3 585.7,869.3 588.5,868.1 591.6,867.6 594.7,867.4 597.8,867.5 601.8,866.7 605.0,866.5 608.1,866.3 611.1,865.9 615.0,865.5 618.1,865.1 621.4,865.0 624.6,864.8 628.4,864.2 631.2,862.9 634.6,861.6 637.7,861.2 640.9,860.2 644.5,860.6 647.8,859.9 650.1,860.1" fill="none" stroke="#5e5e5e" stroke-width="1.05" stroke-linejoin="round"/><polyline points="381.1,914.6 384.1,914.4 387.2,914.1 390.7,914.8 394.6,914.9 397.8,914.7 401.1,914.7 404.5,914.1 408.1,914.7 411.6,914.7 415.2,914.9 418.8,914.9 422.3,914.9 425.8,914.4 429.2,914.6 432.4,914.0 435.4,913.9 439.1,914.4 442.4,913.5 445.9,914.1 449.2,913.4 452.4,913.0 455.5,913.5 459.4,912.7 463.2,912.5 466.9,912.1 470.6,911.9 474.3,911.2 478.1,910.5 481.0,909.6 484.0,908.7 487.2,908.4 490.4,907.6 493.4,906.2 496.8,905.9 499.7,904.2 502.9,903.4 506.0,902.8 508.8,901.7 512.5,900.4 516.0,899.7 519.8,898.7 523.6,898.0 527.0,897.7 529.9,896.9 533.6,896.8 537.2,896.1 541.1,895.8 544.3,895.8 547.4,895.2 550.5,895.0 553.4,894.2 557.2,893.6 561.1,892.4 564.2,891.8 567.0,890.5 570.6,888.9 574.2,887.6 577.4,886.8 580.5,886.0 583.3,884.4 586.4,884.1 589.3,883.0 592.4,882.4 595.5,882.5 598.6,881.8 601.6,880.4 604.7,880.0 607.7,879.2 610.8,878.1 614.0,878.1 616.9,876.7 620.2,876.4 623.0,874.8 626.2,874.7 629.2,873.4 632.4,872.3 635.9,871.5 639.3,870.7 642.8,869.8 643.4,869.6" fill="none" stroke="#5e5e5e" stroke-width="1.05" stroke-linejoin="round"/><polyline points="381.1,914.6 384.1,914.9 387.2,914.4 390.7,914.9 394.6,914.6 397.8,914.9 401.1,914.2 404.5,914.2 408.0,914.3 411.6,914.6 415.2,914.1 418.8,914.3 422.3,914.2 425.8,914.5 429.1,914.0 432.4,914.1 435.4,914.7 439.1,914.3 442.4,913.9 445.9,913.5 449.3,914.2 452.4,913.7 455.4,913.0 459.4,912.9 463.1,912.8 466.8,912.1 470.6,912.3 474.3,911.7 478.0,910.8 481.9,910.0 485.0,909.9 487.9,909.2 490.8,908.2 493.7,907.3 496.6,906.5 499.5,905.7 502.5,905.0 505.4,904.0 508.3,903.2 511.4,902.8 514.2,901.5 517.5,901.7 520.4,900.8 524.3,899.8 527.3,899.3 530.4,898.9 533.5,898.6 536.6,897.9 539.7,897.8 542.8,897.3 545.9,897.2 548.8,896.4 552.8,896.4 556.5,895.6 560.0,894.5 563.5,894.0 566.6,892.5 569.8,891.5 572.9,890.6 575.9,889.8 578.6,888.1 582.4,887.3 585.9,885.9 589.1,884.5 592.5,884.0 595.7,882.5 598.9,881.8 601.9,881.3 605.7,880.8 609.1,879.4 612.3,878.9 615.7,878.7 618.9,879.1 622.8,878.5 626.7,878.9 629.8,878.6 633.7,878.7 636.9,878.2 640.1,877.6 643.3,876.6 646.3,875.3 649.6,875.4 653.3,875.0 656.7,874.3" fill="none" stroke="#5e5e5e" stroke-width="1.05" stroke-linejoin="round"/><polyline points="381.1,914.6 384.1,914.9 387.2,914.1 390.7,914.6 394.6,914.1 397.8,914.7 401.1,915.0 404.5,914.5 408.0,914.0 411.6,914.9 415.2,915.0 418.8,914.4 422.3,914.1 425.8,914.8 429.1,914.5 432.4,914.0 435.4,914.2 439.1,914.0 442.4,914.3 445.9,914.1 449.2,914.5 452.4,914.7 455.5,913.8 459.4,913.8 463.2,913.7 466.9,914.5 470.6,914.0 474.3,914.2 478.1,914.3 482.1,914.3 485.3,913.9 488.5,914.4 491.7,914.2 495.0,914.3 498.2,913.9 501.4,913.9 504.5,914.2 507.6,913.9 511.4,913.9 515.1,913.7 518.4,912.8 522.3,913.1 525.6,912.1 528.7,912.4 532.3,911.3 535.9,910.8 539.3,909.6 542.5,909.2 545.6,908.9 548.7,908.2 551.8,907.9 554.9,907.9 557.9,906.6 561.0,906.5 563.9,905.6 567.0,905.5 569.9,904.6 573.0,904.3 576.0,904.1 579.0,903.1 582.1,902.8 585.2,902.1 588.2,901.2 591.4,900.9 594.5,900.2 598.2,899.0 601.1,897.8 604.4,897.8 607.4,897.2 611.2,896.2 615.0,895.2 618.0,894.7 621.9,894.1 624.9,894.1 628.0,893.4 631.0,893.0 634.1,893.2 637.3,893.0 640.4,892.6 643.4,891.6 647.5,892.1 651.2,891.4 654.8,891.1 657.9,891.0 660.0,890.5" fill="none" stroke="#5e5e5e" stroke-width="1.05" stroke-linejoin="round"/><polyline points="403.3,915.5 406.5,915.7 410.0,915.4 414.0,915.8 417.3,915.1 420.7,915.5 424.2,915.5 427.7,915.1 431.2,915.0 434.4,914.8 437.5,914.9 440.5,914.4 443.9,914.7 447.2,914.6 450.3,913.7 453.4,913.7 456.4,913.3 460.3,913.3 464.2,912.8 468.1,912.0 471.3,912.1 474.3,910.9 477.4,910.6 480.5,910.8 484.3,909.4 488.2,909.3 492.1,908.9 495.2,908.1 498.3,907.7 501.4,907.4 504.3,906.7 507.2,905.8 510.1,904.8 513.1,904.4 516.2,903.9 519.4,903.7 522.3,902.5 525.2,901.2 528.4,901.0 531.4,900.2 534.3,898.9 537.3,898.2 540.3,897.5 543.4,897.0 546.5,896.4 549.6,895.8 552.7,895.6 556.4,894.7 560.2,893.9 563.8,893.7 567.0,893.3 570.8,892.6 574.2,891.4 577.6,890.2 581.4,889.0 584.7,888.8 588.5,888.2 591.6,887.3 594.8,886.8 598.0,886.8 601.1,886.4 604.1,885.1 607.3,884.9 610.2,884.1 613.3,883.9 616.6,883.3 619.6,882.4 623.4,881.5 626.8,881.4 629.8,880.3 632.9,879.6 636.3,879.3 639.9,879.0 643.4,878.7" fill="none" stroke="#f03a2c" stroke-width="1.05" stroke-linejoin="round"/>
</svg></body></html>
